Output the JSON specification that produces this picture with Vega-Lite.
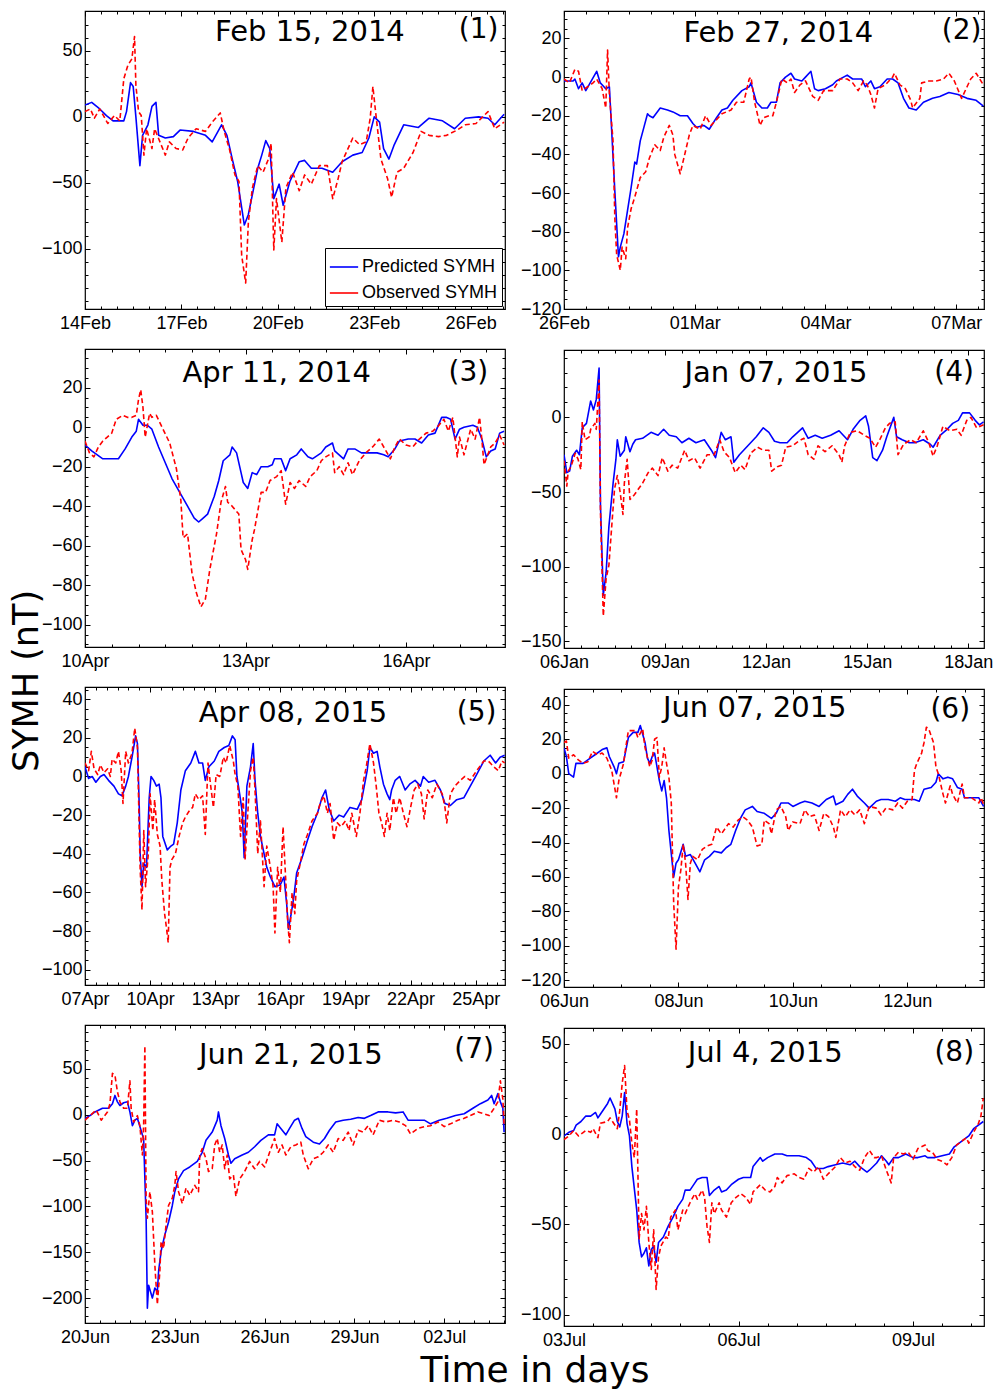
{
  "$schema": "https://vega.github.io/schema/vega-lite/v6.json",
  "background": "white",
  "padding": {"left": 10, "top": 9, "right": 4, "bottom": 2},
  "config": {
    "view": {"stroke": "black", "strokeWidth": 1.2},
    "axis": {"grid": false, "domain": false, "tickColor": "black", "tickWidth": 1, "labelColor": "black", "labelFont": "Liberation Sans", "labelFontSize": 18, "labelFlush": false, "labelOverlap": false},
    "line": {"strokeJoin": "round", "strokeWidth": 1.6},
    "text": {"font": "DejaVu Sans", "fontSize": 29, "baseline": "middle", "align": "center"}
  },
  "spacing": 2,
  "resolve": {"scale": {"color": "independent"}},
  "vconcat": [
    {
      "spacing": -5,
      "resolve": {"scale": {"color": "independent"}},
      "hconcat": [
        {
          "width": 23, "height": 1340,
          "view": {"stroke": null},
          "data": {"values": [{"label": "SYMH (nT)"}]},
          "mark": {"type": "text", "angle": 270, "fontSize": 35, "dy": 3.5},
          "encoding": {"text": {"field": "label"}}
        },
        {
          "spacing": 12,
          "resolve": {"scale": {"color": "independent"}},
          "hconcat": [
            {
              "spacing": 14,
              "resolve": {"scale": {"color": "independent"}},
              "vconcat": [
                {
                  "width": 420, "height": 298,
                  "resolve": {"axis": {"x": "independent", "y": "independent"}},
                  "layer": [
                    {
                      "data": {"format": {"parse": {"t": "date:'%Y-%m-%d %H'"}}, "values": [
                        {"t":"2014-02-14 00","v":9},{"t":"2014-02-14 05","v":11},{"t":"2014-02-14 11","v":6},{"t":"2014-02-14 16","v":1},{"t":"2014-02-14 21","v":-3},{"t":"2014-02-15 05","v":-3},{"t":"2014-02-15 07","v":4},{"t":"2014-02-15 10","v":26},{"t":"2014-02-15 12","v":23},{"t":"2014-02-15 14","v":0},{"t":"2014-02-15 17","v":-37},{"t":"2014-02-15 19","v":-14},{"t":"2014-02-15 23","v":-6},{"t":"2014-02-16 02","v":8},{"t":"2014-02-16 05","v":11},{"t":"2014-02-16 07","v":-14},{"t":"2014-02-16 12","v":-16},{"t":"2014-02-16 18","v":-15},{"t":"2014-02-16 23","v":-10},{"t":"2014-02-17 09","v":-11},{"t":"2014-02-17 18","v":-14},{"t":"2014-02-17 23","v":-19},{"t":"2014-02-18 06","v":-6},{"t":"2014-02-18 10","v":-14},{"t":"2014-02-18 14","v":-32},{"t":"2014-02-18 18","v":-49},{"t":"2014-02-18 23","v":-82},{"t":"2014-02-19 02","v":-74},{"t":"2014-02-19 05","v":-59},{"t":"2014-02-19 09","v":-39},{"t":"2014-02-19 12","v":-29},{"t":"2014-02-19 15","v":-18},{"t":"2014-02-19 18","v":-24},{"t":"2014-02-19 21","v":-62},{"t":"2014-02-20 01","v":-51},{"t":"2014-02-20 04","v":-67},{"t":"2014-02-20 09","v":-49},{"t":"2014-02-20 16","v":-34},{"t":"2014-02-20 20","v":-33},{"t":"2014-02-21 01","v":-39},{"t":"2014-02-21 09","v":-39},{"t":"2014-02-21 17","v":-42},{"t":"2014-02-22 00","v":-34},{"t":"2014-02-22 08","v":-29},{"t":"2014-02-22 15","v":-27},{"t":"2014-02-22 20","v":-16},{"t":"2014-02-23 00","v":0},{"t":"2014-02-23 04","v":-4},{"t":"2014-02-23 07","v":-24},{"t":"2014-02-23 11","v":-32},{"t":"2014-02-23 15","v":-21},{"t":"2014-02-23 22","v":-6},{"t":"2014-02-24 09","v":-8},{"t":"2014-02-24 17","v":-1},{"t":"2014-02-25 03","v":-3},{"t":"2014-02-25 12","v":-9},{"t":"2014-02-25 20","v":-1},{"t":"2014-02-26 06","v":0},{"t":"2014-02-26 13","v":-1},{"t":"2014-02-26 18","v":-6},{"t":"2014-02-27 01","v":2}
                      ]},
                      "mark": {"type": "line", "clip": true},
                      "encoding": {
                        "x": {"field": "t", "type": "temporal", "scale": {"domain": [{"year":2014,"month":2,"date":14},{"year":2014,"month":2,"date":27,"hours":1,"minutes":40}], "nice": false},
                          "axis": {"orient": "bottom", "title": null, "format": "%d%b", "tickSize": -5, "labelPadding": 10, "values": [{"year":2014,"month":2,"date":14},{"year":2014,"month":2,"date":17},{"year":2014,"month":2,"date":20},{"year":2014,"month":2,"date":23},{"year":2014,"month":2,"date":26}]}},
                        "y": {"field": "v", "type": "quantitative", "scale": {"domain": [-145.7, 80.3], "nice": false, "zero": false},
                          "axis": {"orient": "left", "title": null, "tickSize": -5, "labelPadding": 8, "values": [-100,-50,0,50]}},
                        "color": {"datum": "Predicted SYMH", "scale": {"domain": ["Predicted SYMH", "Observed SYMH"], "range": ["#0000ff", "#ff0000"]},
                          "legend": {"title": null, "orient": "bottom-right", "offset": 3, "strokeColor": "black", "fillColor": "white", "padding": 4, "symbolType": "stroke", "symbolSize": 800, "symbolStrokeWidth": 1.6, "labelFont": "Liberation Sans", "labelFontSize": 18, "labelColor": "black", "labelOffset": 3, "rowPadding": 2,
                            "encode": {"symbols": {"update": {"strokeDash": {"signal": "datum.value === 'Observed SYMH' ? [5, 3] : [1, 0]"}}}}}}
                      }
                    },
                    {
                      "data": {"format": {"parse": {"t": "date:'%Y-%m-%d %H'"}}, "values": [
                        {"t":"2014-02-14 00","v":4},{"t":"2014-02-14 04","v":6},{"t":"2014-02-14 07","v":-1},{"t":"2014-02-14 11","v":6},{"t":"2014-02-14 17","v":-5},{"t":"2014-02-14 22","v":1},{"t":"2014-02-15 02","v":-3},{"t":"2014-02-15 05","v":29},{"t":"2014-02-15 08","v":39},{"t":"2014-02-15 11","v":44},{"t":"2014-02-15 13","v":61},{"t":"2014-02-15 14","v":24},{"t":"2014-02-15 16","v":4},{"t":"2014-02-15 18","v":1},{"t":"2014-02-15 20","v":-29},{"t":"2014-02-15 22","v":-9},{"t":"2014-02-16 02","v":-24},{"t":"2014-02-16 04","v":-9},{"t":"2014-02-16 06","v":-14},{"t":"2014-02-16 12","v":-29},{"t":"2014-02-16 15","v":-19},{"t":"2014-02-16 20","v":-24},{"t":"2014-02-17 01","v":-25},{"t":"2014-02-17 05","v":-16},{"t":"2014-02-17 11","v":-9},{"t":"2014-02-17 18","v":-11},{"t":"2014-02-17 23","v":-4},{"t":"2014-02-18 05","v":3},{"t":"2014-02-18 08","v":-11},{"t":"2014-02-18 12","v":-25},{"t":"2014-02-18 16","v":-44},{"t":"2014-02-18 19","v":-49},{"t":"2014-02-18 21","v":-105},{"t":"2014-02-19 00","v":-126},{"t":"2014-02-19 02","v":-80},{"t":"2014-02-19 05","v":-54},{"t":"2014-02-19 09","v":-37},{"t":"2014-02-19 13","v":-42},{"t":"2014-02-19 17","v":-32},{"t":"2014-02-19 19","v":-20},{"t":"2014-02-19 21","v":-101},{"t":"2014-02-19 23","v":-62},{"t":"2014-02-20 03","v":-95},{"t":"2014-02-20 06","v":-54},{"t":"2014-02-20 11","v":-42},{"t":"2014-02-20 16","v":-56},{"t":"2014-02-20 20","v":-44},{"t":"2014-02-21 01","v":-51},{"t":"2014-02-21 07","v":-37},{"t":"2014-02-21 13","v":-37},{"t":"2014-02-21 17","v":-62},{"t":"2014-02-21 21","v":-47},{"t":"2014-02-22 00","v":-34},{"t":"2014-02-22 08","v":-16},{"t":"2014-02-22 13","v":-21},{"t":"2014-02-22 18","v":-19},{"t":"2014-02-22 21","v":-1},{"t":"2014-02-22 23","v":23},{"t":"2014-02-23 01","v":4},{"t":"2014-02-23 05","v":-32},{"t":"2014-02-23 10","v":-47},{"t":"2014-02-23 13","v":-61},{"t":"2014-02-23 17","v":-42},{"t":"2014-02-23 22","v":-39},{"t":"2014-02-24 05","v":-27},{"t":"2014-02-24 11","v":-11},{"t":"2014-02-24 17","v":-14},{"t":"2014-02-25 00","v":-15},{"t":"2014-02-25 06","v":-14},{"t":"2014-02-25 14","v":-10},{"t":"2014-02-25 20","v":-6},{"t":"2014-02-26 04","v":-5},{"t":"2014-02-26 13","v":4},{"t":"2014-02-26 18","v":-9},{"t":"2014-02-27 01","v":-4}
                      ]},
                      "mark": {"type": "line", "strokeDash": [5, 3], "clip": true},
                      "encoding": {
                        "x": {"field": "t", "type": "temporal", "axis": {"orient": "top", "title": null, "labels": false, "tickSize": -5, "values": [{"year":2014,"month":2,"date":14},{"year":2014,"month":2,"date":17},{"year":2014,"month":2,"date":20},{"year":2014,"month":2,"date":23},{"year":2014,"month":2,"date":26}]}},
                        "y": {"field": "v", "type": "quantitative", "axis": {"orient": "right", "title": null, "labels": false, "tickSize": -5, "values": [-100,-50,0,50]}},
                        "color": {"datum": "Observed SYMH"}
                      }
                    },
                    {
                      "data": {"values": [{"label": "Feb 15, 2014"}]},
                      "mark": {"type": "text"},
                      "encoding": {
                        "x": {"datum": 1392940800000, "type": "temporal", "axis": {"orient": "bottom", "title": null, "labels": false, "tickSize": -3, "values": [1392336000000,1392379200000,1392422400000,1392465600000,1392508800000,1392552000000,1392595200000,1392638400000,1392681600000,1392724800000,1392768000000,1392811200000,1392854400000,1392897600000,1392940800000,1392984000000,1393027200000,1393070400000,1393113600000,1393156800000,1393200000000,1393243200000,1393286400000,1393329600000,1393372800000,1393416000000,1393459200000]}},
                        "y": {"datum": 64, "type": "quantitative", "axis": {"orient": "left", "title": null, "labels": false, "tickSize": -3, "values": [-140,-130,-120,-110,-100,-90,-80,-70,-60,-50,-40,-30,-20,-10,0,10,20,30,40,50,60,70,80]}},
                        "text": {"field": "label"}
                      }
                    },
                    {
                      "data": {"values": [{"label": "(1)"}]},
                      "mark": {"type": "text", "fontSize": 28},
                      "encoding": {
                        "x": {"datum": 1393394400000, "type": "temporal", "axis": {"orient": "top", "title": null, "labels": false, "tickSize": -3, "values": [1392336000000,1392379200000,1392422400000,1392465600000,1392508800000,1392552000000,1392595200000,1392638400000,1392681600000,1392724800000,1392768000000,1392811200000,1392854400000,1392897600000,1392940800000,1392984000000,1393027200000,1393070400000,1393113600000,1393156800000,1393200000000,1393243200000,1393286400000,1393329600000,1393372800000,1393416000000,1393459200000]}},
                        "y": {"datum": 66, "type": "quantitative", "axis": {"orient": "right", "title": null, "labels": false, "tickSize": -3, "values": [-140,-130,-120,-110,-100,-90,-80,-70,-60,-50,-40,-30,-20,-10,0,10,20,30,40,50,60,70,80]}},
                        "text": {"field": "label"}
                      }
                    }
                  ]
                },
                {
                  "width": 420, "height": 298,
                  "resolve": {"axis": {"x": "independent", "y": "independent"}},
                  "layer": [
                    {
                      "data": {"format": {"parse": {"t": "date:'%Y-%m-%d %H'"}}, "values": [
                        {"t":"2014-04-10 00","v":-9},{"t":"2014-04-10 03","v":-12},{"t":"2014-04-10 08","v":-16},{"t":"2014-04-10 12","v":-16},{"t":"2014-04-10 15","v":-16},{"t":"2014-04-10 18","v":-11},{"t":"2014-04-10 21","v":-5},{"t":"2014-04-10 23","v":-2},{"t":"2014-04-11 00","v":4},{"t":"2014-04-11 02","v":1},{"t":"2014-04-11 04","v":1},{"t":"2014-04-11 06","v":-1},{"t":"2014-04-11 09","v":-10},{"t":"2014-04-11 12","v":-18},{"t":"2014-04-11 15","v":-26},{"t":"2014-04-11 19","v":-34},{"t":"2014-04-11 22","v":-40},{"t":"2014-04-12 01","v":-46},{"t":"2014-04-12 03","v":-48},{"t":"2014-04-12 05","v":-46},{"t":"2014-04-12 07","v":-44},{"t":"2014-04-12 10","v":-35},{"t":"2014-04-12 12","v":-27},{"t":"2014-04-12 14","v":-17},{"t":"2014-04-12 17","v":-14},{"t":"2014-04-12 18","v":-10},{"t":"2014-04-12 20","v":-13},{"t":"2014-04-12 22","v":-23},{"t":"2014-04-12 23","v":-28},{"t":"2014-04-13 01","v":-31},{"t":"2014-04-13 03","v":-23},{"t":"2014-04-13 05","v":-24},{"t":"2014-04-13 07","v":-20},{"t":"2014-04-13 10","v":-20},{"t":"2014-04-13 12","v":-19},{"t":"2014-04-13 13","v":-16},{"t":"2014-04-13 16","v":-16},{"t":"2014-04-13 18","v":-22},{"t":"2014-04-13 20","v":-16},{"t":"2014-04-13 23","v":-14},{"t":"2014-04-14 01","v":-11},{"t":"2014-04-14 04","v":-15},{"t":"2014-04-14 06","v":-16},{"t":"2014-04-14 10","v":-13},{"t":"2014-04-14 12","v":-10},{"t":"2014-04-14 15","v":-8},{"t":"2014-04-14 16","v":-12},{"t":"2014-04-14 20","v":-16},{"t":"2014-04-14 22","v":-11},{"t":"2014-04-15 01","v":-11},{"t":"2014-04-15 04","v":-13},{"t":"2014-04-15 07","v":-13},{"t":"2014-04-15 11","v":-13},{"t":"2014-04-15 14","v":-14},{"t":"2014-04-15 16","v":-15},{"t":"2014-04-15 19","v":-11},{"t":"2014-04-15 21","v":-7},{"t":"2014-04-16 01","v":-6},{"t":"2014-04-16 04","v":-6},{"t":"2014-04-16 07","v":-8},{"t":"2014-04-16 10","v":-4},{"t":"2014-04-16 13","v":-3},{"t":"2014-04-16 16","v":5},{"t":"2014-04-16 18","v":5},{"t":"2014-04-16 20","v":4},{"t":"2014-04-16 22","v":-6},{"t":"2014-04-17 00","v":-1},{"t":"2014-04-17 02","v":0},{"t":"2014-04-17 06","v":1},{"t":"2014-04-17 08","v":0},{"t":"2014-04-17 10","v":-6},{"t":"2014-04-17 12","v":-15},{"t":"2014-04-17 14","v":-12},{"t":"2014-04-17 16","v":-11},{"t":"2014-04-17 18","v":-3},{"t":"2014-04-17 20","v":-2}
                      ]},
                      "mark": {"type": "line", "color": "#0000ff", "clip": true},
                      "encoding": {
                        "x": {"field": "t", "type": "temporal", "scale": {"domain": [{"year":2014,"month":4,"date":10},{"year":2014,"month":4,"date":17,"hours":20,"minutes":24}], "nice": false},
                          "axis": {"orient": "bottom", "title": null, "format": "%d%b", "tickSize": -5, "labelPadding": 10, "values": [{"year":2014,"month":4,"date":10},{"year":2014,"month":4,"date":13},{"year":2014,"month":4,"date":16}]}},
                        "y": {"field": "v", "type": "quantitative", "scale": {"domain": [-111.3, 39.6], "nice": false, "zero": false},
                          "axis": {"orient": "left", "title": null, "tickSize": -5, "labelPadding": 8, "values": [-100,-80,-60,-40,-20,0,20]}}
                      }
                    },
                    {
                      "data": {"format": {"parse": {"t": "date:'%Y-%m-%d %H'"}}, "values": [
                        {"t":"2014-04-10 00","v":-7},{"t":"2014-04-10 02","v":-13},{"t":"2014-04-10 04","v":-15},{"t":"2014-04-10 06","v":-10},{"t":"2014-04-10 08","v":-7},{"t":"2014-04-10 10","v":-5},{"t":"2014-04-10 12","v":-3},{"t":"2014-04-10 14","v":4},{"t":"2014-04-10 17","v":6},{"t":"2014-04-10 19","v":5},{"t":"2014-04-10 21","v":5},{"t":"2014-04-10 23","v":6},{"t":"2014-04-11 00","v":14},{"t":"2014-04-11 01","v":19},{"t":"2014-04-11 02","v":10},{"t":"2014-04-11 03","v":-5},{"t":"2014-04-11 05","v":7},{"t":"2014-04-11 06","v":5},{"t":"2014-04-11 08","v":6},{"t":"2014-04-11 11","v":-1},{"t":"2014-04-11 14","v":-8},{"t":"2014-04-11 17","v":-21},{"t":"2014-04-11 19","v":-37},{"t":"2014-04-11 20","v":-56},{"t":"2014-04-11 22","v":-54},{"t":"2014-04-12 00","v":-74},{"t":"2014-04-12 02","v":-84},{"t":"2014-04-12 04","v":-91},{"t":"2014-04-12 06","v":-87},{"t":"2014-04-12 08","v":-72},{"t":"2014-04-12 11","v":-54},{"t":"2014-04-12 13","v":-38},{"t":"2014-04-12 15","v":-30},{"t":"2014-04-12 16","v":-38},{"t":"2014-04-12 18","v":-40},{"t":"2014-04-12 21","v":-44},{"t":"2014-04-12 22","v":-62},{"t":"2014-04-13 00","v":-67},{"t":"2014-04-13 01","v":-72},{"t":"2014-04-13 03","v":-57},{"t":"2014-04-13 04","v":-52},{"t":"2014-04-13 07","v":-33},{"t":"2014-04-13 09","v":-33},{"t":"2014-04-13 11","v":-27},{"t":"2014-04-13 14","v":-25},{"t":"2014-04-13 16","v":-22},{"t":"2014-04-13 18","v":-39},{"t":"2014-04-13 20","v":-28},{"t":"2014-04-13 22","v":-31},{"t":"2014-04-14 00","v":-27},{"t":"2014-04-14 03","v":-30},{"t":"2014-04-14 05","v":-25},{"t":"2014-04-14 08","v":-22},{"t":"2014-04-14 10","v":-17},{"t":"2014-04-14 12","v":-15},{"t":"2014-04-14 15","v":-13},{"t":"2014-04-14 16","v":-23},{"t":"2014-04-14 18","v":-20},{"t":"2014-04-14 20","v":-24},{"t":"2014-04-14 22","v":-18},{"t":"2014-04-15 00","v":-24},{"t":"2014-04-15 03","v":-17},{"t":"2014-04-15 06","v":-13},{"t":"2014-04-15 09","v":-10},{"t":"2014-04-15 12","v":-6},{"t":"2014-04-15 15","v":-12},{"t":"2014-04-15 17","v":-16},{"t":"2014-04-15 19","v":-10},{"t":"2014-04-15 21","v":-6},{"t":"2014-04-16 00","v":-9},{"t":"2014-04-16 03","v":-10},{"t":"2014-04-16 06","v":-6},{"t":"2014-04-16 09","v":-3},{"t":"2014-04-16 12","v":-2},{"t":"2014-04-16 14","v":0},{"t":"2014-04-16 17","v":4},{"t":"2014-04-16 19","v":-2},{"t":"2014-04-16 21","v":5},{"t":"2014-04-16 23","v":-15},{"t":"2014-04-17 00","v":-5},{"t":"2014-04-17 02","v":-14},{"t":"2014-04-17 05","v":-1},{"t":"2014-04-17 07","v":-6},{"t":"2014-04-17 09","v":5},{"t":"2014-04-17 10","v":-6},{"t":"2014-04-17 11","v":-19},{"t":"2014-04-17 14","v":-10},{"t":"2014-04-17 16","v":-8},{"t":"2014-04-17 18","v":-4},{"t":"2014-04-17 20","v":-9}
                      ]},
                      "mark": {"type": "line", "color": "#ff0000", "strokeDash": [5, 3], "clip": true},
                      "encoding": {
                        "x": {"field": "t", "type": "temporal", "axis": {"orient": "top", "title": null, "labels": false, "tickSize": -5, "values": [{"year":2014,"month":4,"date":10},{"year":2014,"month":4,"date":13},{"year":2014,"month":4,"date":16}]}},
                        "y": {"field": "v", "type": "quantitative", "axis": {"orient": "right", "title": null, "labels": false, "tickSize": -5, "values": [-100,-80,-60,-40,-20,0,20]}}
                      }
                    },
                    {
                      "data": {"values": [{"label": "Apr 11, 2014"}]},
                      "mark": {"type": "text"},
                      "encoding": {
                        "x": {"datum": 1397397600000, "type": "temporal", "axis": {"orient": "bottom", "title": null, "labels": false, "tickSize": -3, "values": [1397088000000,1397131200000,1397174400000,1397217600000,1397260800000,1397304000000,1397347200000,1397390400000,1397433600000,1397476800000,1397520000000,1397563200000,1397606400000,1397649600000,1397692800000,1397736000000]}},
                        "y": {"datum": 27.3, "type": "quantitative", "axis": {"orient": "left", "title": null, "labels": false, "tickSize": -3, "values": [-110,-105,-100,-95,-90,-85,-80,-75,-70,-65,-60,-55,-50,-45,-40,-35,-30,-25,-20,-15,-10,-5,0,5,10,15,20,25,30,35]}},
                        "text": {"field": "label"}
                      }
                    },
                    {
                      "data": {"values": [{"label": "(3)"}]},
                      "mark": {"type": "text", "fontSize": 28},
                      "encoding": {
                        "x": {"datum": 1397707200000, "type": "temporal", "axis": {"orient": "top", "title": null, "labels": false, "tickSize": -3, "values": [1397088000000,1397131200000,1397174400000,1397217600000,1397260800000,1397304000000,1397347200000,1397390400000,1397433600000,1397476800000,1397520000000,1397563200000,1397606400000,1397649600000,1397692800000,1397736000000]}},
                        "y": {"datum": 27.3, "type": "quantitative", "axis": {"orient": "right", "title": null, "labels": false, "tickSize": -3, "values": [-110,-105,-100,-95,-90,-85,-80,-75,-70,-65,-60,-55,-50,-45,-40,-35,-30,-25,-20,-15,-10,-5,0,5,10,15,20,25,30,35]}},
                        "text": {"field": "label"}
                      }
                    }
                  ]
                },
                {
                  "width": 420, "height": 298,
                  "resolve": {"axis": {"x": "independent", "y": "independent"}},
                  "layer": [
                    {
                      "data": {"format": {"parse": {"t": "date:'%Y-%m-%d %H'"}}, "values": [
                        {"t":"2015-04-07 00","v":5},{"t":"2015-04-07 04","v":-1},{"t":"2015-04-07 08","v":0},{"t":"2015-04-07 12","v":-3},{"t":"2015-04-07 17","v":0},{"t":"2015-04-07 21","v":1},{"t":"2015-04-08 02","v":-2},{"t":"2015-04-08 08","v":-5},{"t":"2015-04-08 13","v":-9},{"t":"2015-04-08 17","v":-10},{"t":"2015-04-08 21","v":-5},{"t":"2015-04-09 00","v":0},{"t":"2015-04-09 04","v":10},{"t":"2015-04-09 08","v":21},{"t":"2015-04-09 10","v":17},{"t":"2015-04-09 12","v":-16},{"t":"2015-04-09 13","v":-40},{"t":"2015-04-09 15","v":-57},{"t":"2015-04-09 17","v":-45},{"t":"2015-04-09 20","v":-47},{"t":"2015-04-09 23","v":-11},{"t":"2015-04-10 01","v":0},{"t":"2015-04-10 04","v":-2},{"t":"2015-04-10 07","v":-5},{"t":"2015-04-10 10","v":-4},{"t":"2015-04-10 12","v":-11},{"t":"2015-04-10 14","v":-31},{"t":"2015-04-10 19","v":-38},{"t":"2015-04-10 23","v":-36},{"t":"2015-04-11 02","v":-35},{"t":"2015-04-11 06","v":-24},{"t":"2015-04-11 10","v":-7},{"t":"2015-04-11 15","v":3},{"t":"2015-04-11 21","v":7},{"t":"2015-04-12 02","v":13},{"t":"2015-04-12 06","v":7},{"t":"2015-04-12 10","v":7},{"t":"2015-04-12 13","v":-2},{"t":"2015-04-12 17","v":5},{"t":"2015-04-12 23","v":8},{"t":"2015-04-13 04","v":13},{"t":"2015-04-13 10","v":15},{"t":"2015-04-13 15","v":16},{"t":"2015-04-13 19","v":21},{"t":"2015-04-13 22","v":19},{"t":"2015-04-14 00","v":0},{"t":"2015-04-14 03","v":-9},{"t":"2015-04-14 06","v":-19},{"t":"2015-04-14 08","v":-42},{"t":"2015-04-14 11","v":-5},{"t":"2015-04-14 15","v":5},{"t":"2015-04-14 18","v":17},{"t":"2015-04-14 20","v":-2},{"t":"2015-04-14 23","v":-19},{"t":"2015-04-15 02","v":-31},{"t":"2015-04-15 06","v":-40},{"t":"2015-04-15 09","v":-47},{"t":"2015-04-15 13","v":-52},{"t":"2015-04-15 18","v":-57},{"t":"2015-04-16 00","v":-56},{"t":"2015-04-16 04","v":-52},{"t":"2015-04-16 07","v":-66},{"t":"2015-04-16 09","v":-79},{"t":"2015-04-16 12","v":-71},{"t":"2015-04-16 15","v":-62},{"t":"2015-04-16 18","v":-50},{"t":"2015-04-17 00","v":-42},{"t":"2015-04-17 06","v":-33},{"t":"2015-04-17 11","v":-26},{"t":"2015-04-17 17","v":-19},{"t":"2015-04-17 22","v":-11},{"t":"2015-04-18 02","v":-7},{"t":"2015-04-18 06","v":-17},{"t":"2015-04-18 11","v":-23},{"t":"2015-04-18 17","v":-20},{"t":"2015-04-18 22","v":-21},{"t":"2015-04-19 05","v":-16},{"t":"2015-04-19 13","v":-17},{"t":"2015-04-19 18","v":-12},{"t":"2015-04-20 00","v":3},{"t":"2015-04-20 03","v":15},{"t":"2015-04-20 07","v":12},{"t":"2015-04-20 11","v":13},{"t":"2015-04-20 14","v":5},{"t":"2015-04-20 18","v":-4},{"t":"2015-04-20 22","v":-9},{"t":"2015-04-21 01","v":-12},{"t":"2015-04-21 03","v":-7},{"t":"2015-04-21 07","v":-2},{"t":"2015-04-21 12","v":0},{"t":"2015-04-21 18","v":-7},{"t":"2015-04-21 23","v":-4},{"t":"2015-04-22 05","v":-2},{"t":"2015-04-22 11","v":-5},{"t":"2015-04-22 14","v":0},{"t":"2015-04-22 20","v":-3},{"t":"2015-04-23 03","v":-2},{"t":"2015-04-23 09","v":-7},{"t":"2015-04-23 14","v":-14},{"t":"2015-04-23 20","v":-15},{"t":"2015-04-24 03","v":-12},{"t":"2015-04-24 11","v":-11},{"t":"2015-04-24 18","v":-5},{"t":"2015-04-25 01","v":1},{"t":"2015-04-25 09","v":8},{"t":"2015-04-25 16","v":11},{"t":"2015-04-25 22","v":7},{"t":"2015-04-26 03","v":10},{"t":"2015-04-26 08","v":11}
                      ]},
                      "mark": {"type": "line", "color": "#0000ff", "clip": true},
                      "encoding": {
                        "x": {"field": "t", "type": "temporal", "scale": {"domain": [{"year":2015,"month":4,"date":7},{"year":2015,"month":4,"date":26,"hours":8,"minutes":24}], "nice": false},
                          "axis": {"orient": "bottom", "title": null, "format": "%d%b", "tickSize": -5, "labelPadding": 10, "values": [{"year":2015,"month":4,"date":7},{"year":2015,"month":4,"date":10},{"year":2015,"month":4,"date":13},{"year":2015,"month":4,"date":16},{"year":2015,"month":4,"date":19},{"year":2015,"month":4,"date":22},{"year":2015,"month":4,"date":25}]}},
                        "y": {"field": "v", "type": "quantitative", "scale": {"domain": [-107.9, 46.3], "nice": false, "zero": false},
                          "axis": {"orient": "left", "title": null, "tickSize": -5, "labelPadding": 8, "values": [-100,-80,-60,-40,-20,0,20,40]}}
                      }
                    },
                    {
                      "data": {"format": {"parse": {"t": "date:'%Y-%m-%d %H'"}}, "values": [
                        {"t":"2015-04-07 00","v":7},{"t":"2015-04-07 04","v":3},{"t":"2015-04-07 07","v":13},{"t":"2015-04-07 10","v":4},{"t":"2015-04-07 14","v":1},{"t":"2015-04-07 17","v":6},{"t":"2015-04-07 21","v":2},{"t":"2015-04-08 01","v":4},{"t":"2015-04-08 04","v":0},{"t":"2015-04-08 06","v":9},{"t":"2015-04-08 10","v":7},{"t":"2015-04-08 13","v":13},{"t":"2015-04-08 16","v":3},{"t":"2015-04-08 18","v":-14},{"t":"2015-04-08 21","v":13},{"t":"2015-04-09 00","v":7},{"t":"2015-04-09 04","v":12},{"t":"2015-04-09 07","v":25},{"t":"2015-04-09 10","v":15},{"t":"2015-04-09 12","v":-28},{"t":"2015-04-09 13","v":-48},{"t":"2015-04-09 15","v":-69},{"t":"2015-04-09 17","v":-28},{"t":"2015-04-09 19","v":-57},{"t":"2015-04-09 22","v":-40},{"t":"2015-04-10 00","v":-9},{"t":"2015-04-10 03","v":-28},{"t":"2015-04-10 05","v":-12},{"t":"2015-04-10 08","v":-30},{"t":"2015-04-10 11","v":-36},{"t":"2015-04-10 13","v":-54},{"t":"2015-04-10 16","v":-71},{"t":"2015-04-10 18","v":-78},{"t":"2015-04-10 20","v":-86},{"t":"2015-04-10 22","v":-47},{"t":"2015-04-11 00","v":-43},{"t":"2015-04-11 04","v":-40},{"t":"2015-04-11 08","v":-31},{"t":"2015-04-11 12","v":-24},{"t":"2015-04-11 15","v":-21},{"t":"2015-04-11 19","v":-18},{"t":"2015-04-11 23","v":-16},{"t":"2015-04-12 02","v":-9},{"t":"2015-04-12 06","v":-12},{"t":"2015-04-12 10","v":-10},{"t":"2015-04-12 13","v":-30},{"t":"2015-04-12 16","v":7},{"t":"2015-04-12 19","v":-5},{"t":"2015-04-12 22","v":-16},{"t":"2015-04-13 01","v":1},{"t":"2015-04-13 05","v":0},{"t":"2015-04-13 09","v":10},{"t":"2015-04-13 12","v":7},{"t":"2015-04-13 16","v":16},{"t":"2015-04-13 20","v":8},{"t":"2015-04-13 22","v":1},{"t":"2015-04-14 01","v":-5},{"t":"2015-04-14 04","v":-31},{"t":"2015-04-14 07","v":-11},{"t":"2015-04-14 09","v":-43},{"t":"2015-04-14 12","v":-19},{"t":"2015-04-14 15","v":3},{"t":"2015-04-14 18","v":10},{"t":"2015-04-14 20","v":-7},{"t":"2015-04-14 23","v":-40},{"t":"2015-04-15 02","v":-23},{"t":"2015-04-15 06","v":-57},{"t":"2015-04-15 09","v":-36},{"t":"2015-04-15 13","v":-47},{"t":"2015-04-15 16","v":-57},{"t":"2015-04-15 18","v":-81},{"t":"2015-04-15 21","v":-47},{"t":"2015-04-16 00","v":-60},{"t":"2015-04-16 03","v":-26},{"t":"2015-04-16 06","v":-54},{"t":"2015-04-16 08","v":-74},{"t":"2015-04-16 10","v":-86},{"t":"2015-04-16 13","v":-60},{"t":"2015-04-16 16","v":-71},{"t":"2015-04-16 18","v":-54},{"t":"2015-04-16 22","v":-45},{"t":"2015-04-17 02","v":-35},{"t":"2015-04-17 06","v":-30},{"t":"2015-04-17 11","v":-23},{"t":"2015-04-17 17","v":-19},{"t":"2015-04-17 20","v":-14},{"t":"2015-04-18 00","v":-10},{"t":"2015-04-18 04","v":-19},{"t":"2015-04-18 07","v":-14},{"t":"2015-04-18 11","v":-33},{"t":"2015-04-18 15","v":-24},{"t":"2015-04-18 19","v":-26},{"t":"2015-04-19 00","v":-23},{"t":"2015-04-19 04","v":-28},{"t":"2015-04-19 07","v":-19},{"t":"2015-04-19 12","v":-31},{"t":"2015-04-19 16","v":-19},{"t":"2015-04-19 20","v":-2},{"t":"2015-04-19 23","v":5},{"t":"2015-04-20 03","v":17},{"t":"2015-04-20 07","v":7},{"t":"2015-04-20 10","v":-5},{"t":"2015-04-20 13","v":-19},{"t":"2015-04-20 16","v":-24},{"t":"2015-04-20 19","v":-31},{"t":"2015-04-20 22","v":-19},{"t":"2015-04-21 01","v":-28},{"t":"2015-04-21 05","v":-11},{"t":"2015-04-21 08","v":-19},{"t":"2015-04-21 12","v":-11},{"t":"2015-04-21 16","v":-19},{"t":"2015-04-21 20","v":-26},{"t":"2015-04-22 00","v":-16},{"t":"2015-04-22 04","v":-7},{"t":"2015-04-22 08","v":-4},{"t":"2015-04-22 12","v":-9},{"t":"2015-04-22 15","v":-22},{"t":"2015-04-22 19","v":-7},{"t":"2015-04-23 00","v":-11},{"t":"2015-04-23 05","v":-4},{"t":"2015-04-23 11","v":-9},{"t":"2015-04-23 14","v":-16},{"t":"2015-04-23 16","v":-24},{"t":"2015-04-23 20","v":-9},{"t":"2015-04-24 01","v":-5},{"t":"2015-04-24 07","v":-2},{"t":"2015-04-24 12","v":0},{"t":"2015-04-24 18","v":-2},{"t":"2015-04-25 01","v":3},{"t":"2015-04-25 09","v":8},{"t":"2015-04-25 14","v":8},{"t":"2015-04-25 20","v":5},{"t":"2015-04-26 01","v":3},{"t":"2015-04-26 05","v":8},{"t":"2015-04-26 08","v":7}
                      ]},
                      "mark": {"type": "line", "color": "#ff0000", "strokeDash": [5, 3], "clip": true},
                      "encoding": {
                        "x": {"field": "t", "type": "temporal", "axis": {"orient": "top", "title": null, "labels": false, "tickSize": -5, "values": [{"year":2015,"month":4,"date":7},{"year":2015,"month":4,"date":10},{"year":2015,"month":4,"date":13},{"year":2015,"month":4,"date":16},{"year":2015,"month":4,"date":19},{"year":2015,"month":4,"date":22},{"year":2015,"month":4,"date":25}]}},
                        "y": {"field": "v", "type": "quantitative", "axis": {"orient": "right", "title": null, "labels": false, "tickSize": -5, "values": [-100,-80,-60,-40,-20,0,20,40]}}
                      }
                    },
                    {
                      "data": {"values": [{"label": "Apr 08, 2015"}]},
                      "mark": {"type": "text"},
                      "encoding": {
                        "x": {"datum": 1429192800000, "type": "temporal", "axis": {"orient": "bottom", "title": null, "labels": false, "tickSize": -3, "values": [1428364800000,1428408000000,1428451200000,1428494400000,1428537600000,1428580800000,1428624000000,1428667200000,1428710400000,1428753600000,1428796800000,1428840000000,1428883200000,1428926400000,1428969600000,1429012800000,1429056000000,1429099200000,1429142400000,1429185600000,1429228800000,1429272000000,1429315200000,1429358400000,1429401600000,1429444800000,1429488000000,1429531200000,1429574400000,1429617600000,1429660800000,1429704000000,1429747200000,1429790400000,1429833600000,1429876800000,1429920000000,1429963200000,1430006400000]}},
                        "y": {"datum": 32.6, "type": "quantitative", "axis": {"orient": "left", "title": null, "labels": false, "tickSize": -3, "values": [-105,-100,-95,-90,-85,-80,-75,-70,-65,-60,-55,-50,-45,-40,-35,-30,-25,-20,-15,-10,-5,0,5,10,15,20,25,30,35,40,45]}},
                        "text": {"field": "label"}
                      }
                    },
                    {
                      "data": {"values": [{"label": "(5)"}]},
                      "mark": {"type": "text", "fontSize": 28},
                      "encoding": {
                        "x": {"datum": 1429923600000, "type": "temporal", "axis": {"orient": "top", "title": null, "labels": false, "tickSize": -3, "values": [1428364800000,1428408000000,1428451200000,1428494400000,1428537600000,1428580800000,1428624000000,1428667200000,1428710400000,1428753600000,1428796800000,1428840000000,1428883200000,1428926400000,1428969600000,1429012800000,1429056000000,1429099200000,1429142400000,1429185600000,1429228800000,1429272000000,1429315200000,1429358400000,1429401600000,1429444800000,1429488000000,1429531200000,1429574400000,1429617600000,1429660800000,1429704000000,1429747200000,1429790400000,1429833600000,1429876800000,1429920000000,1429963200000,1430006400000]}},
                        "y": {"datum": 32.6, "type": "quantitative", "axis": {"orient": "right", "title": null, "labels": false, "tickSize": -3, "values": [-105,-100,-95,-90,-85,-80,-75,-70,-65,-60,-55,-50,-45,-40,-35,-30,-25,-20,-15,-10,-5,0,5,10,15,20,25,30,35,40,45]}},
                        "text": {"field": "label"}
                      }
                    }
                  ]
                },
                {
                  "width": 420, "height": 298,
                  "resolve": {"axis": {"x": "independent", "y": "independent"}},
                  "layer": [
                    {
                      "data": {"format": {"parse": {"t": "date:'%Y-%m-%d %H'"}}, "values": [
                        {"t":"2015-06-20 00","v":-4},{"t":"2015-06-20 04","v":-1},{"t":"2015-06-20 08","v":3},{"t":"2015-06-20 14","v":7},{"t":"2015-06-20 19","v":7},{"t":"2015-06-20 22","v":12},{"t":"2015-06-21 00","v":21},{"t":"2015-06-21 02","v":14},{"t":"2015-06-21 04","v":10},{"t":"2015-06-21 07","v":13},{"t":"2015-06-21 10","v":14},{"t":"2015-06-21 12","v":3},{"t":"2015-06-21 14","v":-12},{"t":"2015-06-21 16","v":-6},{"t":"2015-06-21 18","v":-4},{"t":"2015-06-21 20","v":-13},{"t":"2015-06-21 22","v":-22},{"t":"2015-06-21 23","v":-26},{"t":"2015-06-22 01","v":-113},{"t":"2015-06-22 02","v":-211},{"t":"2015-06-22 03","v":-186},{"t":"2015-06-22 06","v":-200},{"t":"2015-06-22 08","v":-189},{"t":"2015-06-22 10","v":-193},{"t":"2015-06-22 11","v":-171},{"t":"2015-06-22 13","v":-149},{"t":"2015-06-22 16","v":-131},{"t":"2015-06-22 19","v":-117},{"t":"2015-06-22 22","v":-99},{"t":"2015-06-23 00","v":-84},{"t":"2015-06-23 03","v":-70},{"t":"2015-06-23 07","v":-61},{"t":"2015-06-23 12","v":-57},{"t":"2015-06-23 18","v":-51},{"t":"2015-06-23 22","v":-41},{"t":"2015-06-24 01","v":-28},{"t":"2015-06-24 06","v":-19},{"t":"2015-06-24 10","v":-6},{"t":"2015-06-24 11","v":3},{"t":"2015-06-24 13","v":-12},{"t":"2015-06-24 16","v":-26},{"t":"2015-06-24 19","v":-44},{"t":"2015-06-24 21","v":-53},{"t":"2015-06-25 00","v":-48},{"t":"2015-06-25 06","v":-44},{"t":"2015-06-25 11","v":-41},{"t":"2015-06-25 16","v":-35},{"t":"2015-06-25 21","v":-28},{"t":"2015-06-26 03","v":-22},{"t":"2015-06-26 08","v":-22},{"t":"2015-06-26 10","v":-10},{"t":"2015-06-26 13","v":-15},{"t":"2015-06-26 17","v":-22},{"t":"2015-06-26 20","v":-15},{"t":"2015-06-27 00","v":-6},{"t":"2015-06-27 03","v":-4},{"t":"2015-06-27 06","v":-15},{"t":"2015-06-27 09","v":-24},{"t":"2015-06-27 15","v":-30},{"t":"2015-06-27 20","v":-32},{"t":"2015-06-28 00","v":-26},{"t":"2015-06-28 04","v":-17},{"t":"2015-06-28 09","v":-8},{"t":"2015-06-28 15","v":-6},{"t":"2015-06-28 21","v":-5},{"t":"2015-06-29 03","v":-3},{"t":"2015-06-29 08","v":-4},{"t":"2015-06-29 13","v":-1},{"t":"2015-06-29 19","v":3},{"t":"2015-06-30 03","v":3},{"t":"2015-06-30 09","v":2},{"t":"2015-06-30 15","v":3},{"t":"2015-06-30 19","v":-6},{"t":"2015-07-01 01","v":-6},{"t":"2015-07-01 08","v":-6},{"t":"2015-07-01 13","v":-10},{"t":"2015-07-01 20","v":-6},{"t":"2015-07-02 02","v":-4},{"t":"2015-07-02 09","v":-1},{"t":"2015-07-02 16","v":1},{"t":"2015-07-02 23","v":7},{"t":"2015-07-03 05","v":12},{"t":"2015-07-03 11","v":16},{"t":"2015-07-03 14","v":21},{"t":"2015-07-03 16","v":12},{"t":"2015-07-03 19","v":23},{"t":"2015-07-03 21","v":14},{"t":"2015-07-03 23","v":7},{"t":"2015-07-04 00","v":-19}
                      ]},
                      "mark": {"type": "line", "color": "#0000ff", "clip": true},
                      "encoding": {
                        "x": {"field": "t", "type": "temporal", "scale": {"domain": [{"year":2015,"month":6,"date":20},{"year":2015,"month":7,"date":4,"hours":0,"minutes":43}], "nice": false},
                          "axis": {"orient": "bottom", "title": null, "format": "%d%b", "tickSize": -5, "labelPadding": 10, "values": [{"year":2015,"month":6,"date":20},{"year":2015,"month":6,"date":23},{"year":2015,"month":6,"date":26},{"year":2015,"month":6,"date":29},{"year":2015,"month":7,"date":2}]}},
                        "y": {"field": "v", "type": "quantitative", "scale": {"domain": [-227.2, 97.8], "nice": false, "zero": false},
                          "axis": {"orient": "left", "title": null, "tickSize": -5, "labelPadding": 8, "values": [-200,-150,-100,-50,0,50]}}
                      }
                    },
                    {
                      "data": {"format": {"parse": {"t": "date:'%Y-%m-%d %H'"}}, "values": [
                        {"t":"2015-06-20 00","v":-6},{"t":"2015-06-20 04","v":-1},{"t":"2015-06-20 09","v":5},{"t":"2015-06-20 13","v":-6},{"t":"2015-06-20 18","v":3},{"t":"2015-06-20 20","v":12},{"t":"2015-06-20 22","v":45},{"t":"2015-06-21 00","v":43},{"t":"2015-06-21 02","v":25},{"t":"2015-06-21 04","v":14},{"t":"2015-06-21 07","v":7},{"t":"2015-06-21 10","v":7},{"t":"2015-06-21 12","v":37},{"t":"2015-06-21 13","v":7},{"t":"2015-06-21 15","v":-8},{"t":"2015-06-21 18","v":-1},{"t":"2015-06-21 20","v":-12},{"t":"2015-06-21 22","v":-44},{"t":"2015-06-21 23","v":-12},{"t":"2015-06-22 00","v":75},{"t":"2015-06-22 01","v":-91},{"t":"2015-06-22 02","v":-113},{"t":"2015-06-22 04","v":-84},{"t":"2015-06-22 06","v":-106},{"t":"2015-06-22 07","v":-135},{"t":"2015-06-22 08","v":-164},{"t":"2015-06-22 10","v":-207},{"t":"2015-06-22 12","v":-171},{"t":"2015-06-22 13","v":-138},{"t":"2015-06-22 15","v":-146},{"t":"2015-06-22 17","v":-120},{"t":"2015-06-22 19","v":-99},{"t":"2015-06-22 22","v":-91},{"t":"2015-06-23 00","v":-77},{"t":"2015-06-23 01","v":-62},{"t":"2015-06-23 03","v":-84},{"t":"2015-06-23 06","v":-97},{"t":"2015-06-23 09","v":-80},{"t":"2015-06-23 12","v":-88},{"t":"2015-06-23 16","v":-77},{"t":"2015-06-23 19","v":-84},{"t":"2015-06-23 20","v":-44},{"t":"2015-06-23 22","v":-37},{"t":"2015-06-24 01","v":-48},{"t":"2015-06-24 03","v":-62},{"t":"2015-06-24 06","v":-59},{"t":"2015-06-24 08","v":-33},{"t":"2015-06-24 10","v":-26},{"t":"2015-06-24 12","v":-41},{"t":"2015-06-24 14","v":-33},{"t":"2015-06-24 16","v":-59},{"t":"2015-06-24 18","v":-44},{"t":"2015-06-24 20","v":-70},{"t":"2015-06-24 23","v":-66},{"t":"2015-06-25 01","v":-89},{"t":"2015-06-25 04","v":-70},{"t":"2015-06-25 08","v":-62},{"t":"2015-06-25 12","v":-51},{"t":"2015-06-25 16","v":-59},{"t":"2015-06-25 20","v":-51},{"t":"2015-06-26 00","v":-57},{"t":"2015-06-26 04","v":-41},{"t":"2015-06-26 08","v":-26},{"t":"2015-06-26 11","v":-41},{"t":"2015-06-26 14","v":-33},{"t":"2015-06-26 17","v":-44},{"t":"2015-06-26 21","v":-35},{"t":"2015-06-27 01","v":-33},{"t":"2015-06-27 05","v":-30},{"t":"2015-06-27 07","v":-44},{"t":"2015-06-27 11","v":-59},{"t":"2015-06-27 15","v":-48},{"t":"2015-06-27 19","v":-46},{"t":"2015-06-27 23","v":-41},{"t":"2015-06-28 03","v":-33},{"t":"2015-06-28 07","v":-41},{"t":"2015-06-28 11","v":-26},{"t":"2015-06-28 15","v":-28},{"t":"2015-06-28 19","v":-19},{"t":"2015-06-28 23","v":-33},{"t":"2015-06-29 03","v":-17},{"t":"2015-06-29 07","v":-19},{"t":"2015-06-29 11","v":-12},{"t":"2015-06-29 15","v":-22},{"t":"2015-06-29 20","v":-6},{"t":"2015-06-30 01","v":-8},{"t":"2015-06-30 07","v":-6},{"t":"2015-06-30 12","v":-8},{"t":"2015-06-30 17","v":-12},{"t":"2015-06-30 21","v":-21},{"t":"2015-07-01 03","v":-15},{"t":"2015-07-01 08","v":-13},{"t":"2015-07-01 13","v":-12},{"t":"2015-07-01 19","v":-8},{"t":"2015-07-02 00","v":-13},{"t":"2015-07-02 05","v":-10},{"t":"2015-07-02 11","v":-6},{"t":"2015-07-02 16","v":-4},{"t":"2015-07-02 21","v":-1},{"t":"2015-07-03 03","v":3},{"t":"2015-07-03 08","v":1},{"t":"2015-07-03 12","v":-1},{"t":"2015-07-03 16","v":7},{"t":"2015-07-03 19","v":14},{"t":"2015-07-03 21","v":37},{"t":"2015-07-03 23","v":17},{"t":"2015-07-04 00","v":-12}
                      ]},
                      "mark": {"type": "line", "color": "#ff0000", "strokeDash": [5, 3], "clip": true},
                      "encoding": {
                        "x": {"field": "t", "type": "temporal", "axis": {"orient": "top", "title": null, "labels": false, "tickSize": -5, "values": [{"year":2015,"month":6,"date":20},{"year":2015,"month":6,"date":23},{"year":2015,"month":6,"date":26},{"year":2015,"month":6,"date":29},{"year":2015,"month":7,"date":2}]}},
                        "y": {"field": "v", "type": "quantitative", "axis": {"orient": "right", "title": null, "labels": false, "tickSize": -5, "values": [-200,-150,-100,-50,0,50]}}
                      }
                    },
                    {
                      "data": {"values": [{"label": "Jun 21, 2015"}]},
                      "mark": {"type": "text"},
                      "encoding": {
                        "x": {"datum": 1435352400000, "type": "temporal", "axis": {"orient": "bottom", "title": null, "labels": false, "tickSize": -3, "values": [1434758400000,1434801600000,1434844800000,1434888000000,1434931200000,1434974400000,1435017600000,1435060800000,1435104000000,1435147200000,1435190400000,1435233600000,1435276800000,1435320000000,1435363200000,1435406400000,1435449600000,1435492800000,1435536000000,1435579200000,1435622400000,1435665600000,1435708800000,1435752000000,1435795200000,1435838400000,1435881600000,1435924800000,1435968000000]}},
                        "y": {"datum": 64.6, "type": "quantitative", "axis": {"orient": "left", "title": null, "labels": false, "tickSize": -3, "values": [-220,-210,-200,-190,-180,-170,-160,-150,-140,-130,-120,-110,-100,-90,-80,-70,-60,-50,-40,-30,-20,-10,0,10,20,30,40,50,60,70,80,90]}},
                        "text": {"field": "label"}
                      }
                    },
                    {
                      "data": {"values": [{"label": "(7)"}]},
                      "mark": {"type": "text", "fontSize": 28},
                      "encoding": {
                        "x": {"datum": 1435881600000, "type": "temporal", "axis": {"orient": "top", "title": null, "labels": false, "tickSize": -3, "values": [1434758400000,1434801600000,1434844800000,1434888000000,1434931200000,1434974400000,1435017600000,1435060800000,1435104000000,1435147200000,1435190400000,1435233600000,1435276800000,1435320000000,1435363200000,1435406400000,1435449600000,1435492800000,1435536000000,1435579200000,1435622400000,1435665600000,1435708800000,1435752000000,1435795200000,1435838400000,1435881600000,1435924800000,1435968000000]}},
                        "y": {"datum": 71, "type": "quantitative", "axis": {"orient": "right", "title": null, "labels": false, "tickSize": -3, "values": [-220,-210,-200,-190,-180,-170,-160,-150,-140,-130,-120,-110,-100,-90,-80,-70,-60,-50,-40,-30,-20,-10,0,10,20,30,40,50,60,70,80,90]}},
                        "text": {"field": "label"}
                      }
                    }
                  ]
                }
              ]
            },
            {
              "spacing": 15,
              "resolve": {"scale": {"color": "independent"}},
              "vconcat": [
                {
                  "width": 420, "height": 298,
                  "resolve": {"axis": {"x": "independent", "y": "independent"}},
                  "layer": [
                    {
                      "data": {"format": {"parse": {"t": "date:'%Y-%m-%d %H'"}}, "values": [
                        {"t":"2014-02-26 00","v":-2},{"t":"2014-02-26 05","v":-2},{"t":"2014-02-26 06","v":-1},{"t":"2014-02-26 08","v":-6},{"t":"2014-02-26 10","v":-3},{"t":"2014-02-26 12","v":-7},{"t":"2014-02-26 18","v":3},{"t":"2014-02-26 20","v":-3},{"t":"2014-02-26 23","v":-6},{"t":"2014-02-27 01","v":-5},{"t":"2014-02-27 02","v":-23},{"t":"2014-02-27 04","v":-59},{"t":"2014-02-27 06","v":-93},{"t":"2014-02-27 07","v":-88},{"t":"2014-02-27 09","v":-81},{"t":"2014-02-27 11","v":-69},{"t":"2014-02-27 13","v":-57},{"t":"2014-02-27 15","v":-44},{"t":"2014-02-27 16","v":-45},{"t":"2014-02-27 18","v":-33},{"t":"2014-02-27 20","v":-26},{"t":"2014-02-27 22","v":-19},{"t":"2014-02-27 23","v":-20},{"t":"2014-02-28 01","v":-21},{"t":"2014-02-28 05","v":-16},{"t":"2014-02-28 09","v":-17},{"t":"2014-02-28 12","v":-18},{"t":"2014-02-28 16","v":-20},{"t":"2014-02-28 20","v":-20},{"t":"2014-02-28 23","v":-24},{"t":"2014-03-01 01","v":-26},{"t":"2014-03-01 05","v":-25},{"t":"2014-03-01 08","v":-27},{"t":"2014-03-01 12","v":-21},{"t":"2014-03-01 15","v":-17},{"t":"2014-03-01 18","v":-16},{"t":"2014-03-01 21","v":-12},{"t":"2014-03-02 02","v":-7},{"t":"2014-03-02 06","v":-5},{"t":"2014-03-02 07","v":-3},{"t":"2014-03-02 10","v":-13},{"t":"2014-03-02 13","v":-16},{"t":"2014-03-02 16","v":-16},{"t":"2014-03-02 18","v":-13},{"t":"2014-03-02 21","v":-13},{"t":"2014-03-02 23","v":-3},{"t":"2014-03-03 02","v":0},{"t":"2014-03-03 05","v":2},{"t":"2014-03-03 07","v":-1},{"t":"2014-03-03 11","v":-2},{"t":"2014-03-03 13","v":0},{"t":"2014-03-03 16","v":3},{"t":"2014-03-03 18","v":-6},{"t":"2014-03-03 20","v":-7},{"t":"2014-03-04 00","v":-6},{"t":"2014-03-04 04","v":-4},{"t":"2014-03-04 06","v":-2},{"t":"2014-03-04 12","v":1},{"t":"2014-03-04 15","v":-1},{"t":"2014-03-04 20","v":-1},{"t":"2014-03-04 22","v":-5},{"t":"2014-03-05 01","v":-2},{"t":"2014-03-05 03","v":-6},{"t":"2014-03-05 06","v":-5},{"t":"2014-03-05 10","v":-1},{"t":"2014-03-05 13","v":-1},{"t":"2014-03-05 16","v":-3},{"t":"2014-03-05 19","v":-11},{"t":"2014-03-05 22","v":-16},{"t":"2014-03-06 02","v":-17},{"t":"2014-03-06 06","v":-13},{"t":"2014-03-06 11","v":-11},{"t":"2014-03-06 15","v":-10},{"t":"2014-03-06 20","v":-8},{"t":"2014-03-07 01","v":-9},{"t":"2014-03-07 06","v":-11},{"t":"2014-03-07 11","v":-12},{"t":"2014-03-07 15","v":-15}
                      ]},
                      "mark": {"type": "line", "color": "#0000ff", "clip": true},
                      "encoding": {
                        "x": {"field": "t", "type": "temporal", "scale": {"domain": [{"year":2014,"month":2,"date":26},{"year":2014,"month":3,"date":7,"hours":15,"minutes":20}], "nice": false},
                          "axis": {"orient": "bottom", "title": null, "format": "%d%b", "tickSize": -5, "labelPadding": 10, "values": [{"year":2014,"month":2,"date":26},{"year":2014,"month":3,"date":1},{"year":2014,"month":3,"date":4},{"year":2014,"month":3,"date":7}]}},
                        "y": {"field": "v", "type": "quantitative", "scale": {"domain": [-120, 34.2], "nice": false, "zero": false},
                          "axis": {"orient": "left", "title": null, "tickSize": -5, "labelPadding": 8, "values": [-120,-100,-80,-60,-40,-20,0,20]}}
                      }
                    },
                    {
                      "data": {"format": {"parse": {"t": "date:'%Y-%m-%d %H'"}}, "values": [
                        {"t":"2014-02-26 00","v":-1},{"t":"2014-02-26 03","v":-3},{"t":"2014-02-26 06","v":4},{"t":"2014-02-26 08","v":3},{"t":"2014-02-26 10","v":-7},{"t":"2014-02-26 13","v":-5},{"t":"2014-02-26 16","v":-3},{"t":"2014-02-26 18","v":-1},{"t":"2014-02-26 21","v":-6},{"t":"2014-02-26 23","v":-16},{"t":"2014-02-27 00","v":14},{"t":"2014-02-27 01","v":-9},{"t":"2014-02-27 03","v":-33},{"t":"2014-02-27 04","v":-73},{"t":"2014-02-27 05","v":-92},{"t":"2014-02-27 07","v":-100},{"t":"2014-02-27 08","v":-88},{"t":"2014-02-27 10","v":-94},{"t":"2014-02-27 11","v":-78},{"t":"2014-02-27 13","v":-68},{"t":"2014-02-27 15","v":-62},{"t":"2014-02-27 18","v":-52},{"t":"2014-02-27 21","v":-49},{"t":"2014-02-27 23","v":-42},{"t":"2014-02-28 02","v":-35},{"t":"2014-02-28 05","v":-38},{"t":"2014-02-28 07","v":-31},{"t":"2014-02-28 10","v":-25},{"t":"2014-02-28 12","v":-30},{"t":"2014-02-28 13","v":-40},{"t":"2014-02-28 16","v":-50},{"t":"2014-02-28 18","v":-42},{"t":"2014-02-28 21","v":-30},{"t":"2014-02-28 23","v":-25},{"t":"2014-03-01 03","v":-27},{"t":"2014-03-01 06","v":-20},{"t":"2014-03-01 09","v":-25},{"t":"2014-03-01 11","v":-23},{"t":"2014-03-01 15","v":-19},{"t":"2014-03-01 20","v":-17},{"t":"2014-03-01 23","v":-13},{"t":"2014-03-02 03","v":-13},{"t":"2014-03-02 06","v":-1},{"t":"2014-03-02 07","v":0},{"t":"2014-03-02 09","v":-13},{"t":"2014-03-02 12","v":-25},{"t":"2014-03-02 14","v":-21},{"t":"2014-03-02 17","v":-20},{"t":"2014-03-02 19","v":-20},{"t":"2014-03-02 21","v":-13},{"t":"2014-03-03 00","v":-1},{"t":"2014-03-03 03","v":-3},{"t":"2014-03-03 05","v":-1},{"t":"2014-03-03 07","v":-8},{"t":"2014-03-03 10","v":-4},{"t":"2014-03-03 13","v":-2},{"t":"2014-03-03 17","v":-10},{"t":"2014-03-03 20","v":-12},{"t":"2014-03-03 23","v":-7},{"t":"2014-03-04 04","v":-7},{"t":"2014-03-04 08","v":-1},{"t":"2014-03-04 12","v":-1},{"t":"2014-03-04 15","v":-3},{"t":"2014-03-04 18","v":-7},{"t":"2014-03-04 21","v":-2},{"t":"2014-03-04 23","v":-4},{"t":"2014-03-05 01","v":-9},{"t":"2014-03-05 03","v":-16},{"t":"2014-03-05 05","v":-6},{"t":"2014-03-05 09","v":-4},{"t":"2014-03-05 13","v":0},{"t":"2014-03-05 14","v":2},{"t":"2014-03-05 17","v":-4},{"t":"2014-03-05 20","v":-6},{"t":"2014-03-05 23","v":-12},{"t":"2014-03-06 00","v":-16},{"t":"2014-03-06 04","v":-11},{"t":"2014-03-06 05","v":-3},{"t":"2014-03-06 09","v":-2},{"t":"2014-03-06 13","v":-2},{"t":"2014-03-06 17","v":-1},{"t":"2014-03-06 20","v":2},{"t":"2014-03-06 23","v":-2},{"t":"2014-03-07 03","v":-11},{"t":"2014-03-07 06","v":-5},{"t":"2014-03-07 08","v":-1},{"t":"2014-03-07 11","v":2},{"t":"2014-03-07 13","v":-1},{"t":"2014-03-07 15","v":-4}
                      ]},
                      "mark": {"type": "line", "color": "#ff0000", "strokeDash": [5, 3], "clip": true},
                      "encoding": {
                        "x": {"field": "t", "type": "temporal", "axis": {"orient": "top", "title": null, "labels": false, "tickSize": -5, "values": [{"year":2014,"month":2,"date":26},{"year":2014,"month":3,"date":1},{"year":2014,"month":3,"date":4},{"year":2014,"month":3,"date":7}]}},
                        "y": {"field": "v", "type": "quantitative", "axis": {"orient": "right", "title": null, "labels": false, "tickSize": -5, "values": [-120,-100,-80,-60,-40,-20,0,20]}}
                      }
                    },
                    {
                      "data": {"values": [{"label": "Feb 27, 2014"}]},
                      "mark": {"type": "text"},
                      "encoding": {
                        "x": {"datum": 1393797600000, "type": "temporal", "axis": {"orient": "bottom", "title": null, "labels": false, "tickSize": -3, "values": [1393372800000,1393416000000,1393459200000,1393502400000,1393545600000,1393588800000,1393632000000,1393675200000,1393718400000,1393761600000,1393804800000,1393848000000,1393891200000,1393934400000,1393977600000,1394020800000,1394064000000,1394107200000,1394150400000,1394193600000]}},
                        "y": {"datum": 23, "type": "quantitative", "axis": {"orient": "left", "title": null, "labels": false, "tickSize": -3, "values": [-120,-115,-110,-105,-100,-95,-90,-85,-80,-75,-70,-65,-60,-55,-50,-45,-40,-35,-30,-25,-20,-15,-10,-5,0,5,10,15,20,25,30]}},
                        "text": {"field": "label"}
                      }
                    },
                    {
                      "data": {"values": [{"label": "(2)"}]},
                      "mark": {"type": "text", "fontSize": 28},
                      "encoding": {
                        "x": {"datum": 1394161200000, "type": "temporal", "axis": {"orient": "top", "title": null, "labels": false, "tickSize": -3, "values": [1393372800000,1393416000000,1393459200000,1393502400000,1393545600000,1393588800000,1393632000000,1393675200000,1393718400000,1393761600000,1393804800000,1393848000000,1393891200000,1393934400000,1393977600000,1394020800000,1394064000000,1394107200000,1394150400000,1394193600000]}},
                        "y": {"datum": 23.6, "type": "quantitative", "axis": {"orient": "right", "title": null, "labels": false, "tickSize": -3, "values": [-120,-115,-110,-105,-100,-95,-90,-85,-80,-75,-70,-65,-60,-55,-50,-45,-40,-35,-30,-25,-20,-15,-10,-5,0,5,10,15,20,25,30]}},
                        "text": {"field": "label"}
                      }
                    }
                  ]
                },
                {
                  "width": 420, "height": 298,
                  "resolve": {"axis": {"x": "independent", "y": "independent"}},
                  "layer": [
                    {
                      "data": {"format": {"parse": {"t": "date:'%Y-%m-%d %H'"}}, "values": [
                        {"t":"2015-01-06 00","v":-25},{"t":"2015-01-06 02","v":-37},{"t":"2015-01-06 04","v":-36},{"t":"2015-01-06 06","v":-26},{"t":"2015-01-06 09","v":-22},{"t":"2015-01-06 11","v":-25},{"t":"2015-01-06 13","v":-7},{"t":"2015-01-06 16","v":-4},{"t":"2015-01-06 19","v":11},{"t":"2015-01-06 21","v":5},{"t":"2015-01-06 23","v":12},{"t":"2015-01-07 01","v":33},{"t":"2015-01-07 02","v":-59},{"t":"2015-01-07 04","v":-119},{"t":"2015-01-07 06","v":-104},{"t":"2015-01-07 08","v":-73},{"t":"2015-01-07 11","v":-44},{"t":"2015-01-07 13","v":-28},{"t":"2015-01-07 14","v":-15},{"t":"2015-01-07 16","v":-26},{"t":"2015-01-07 19","v":-22},{"t":"2015-01-07 20","v":-13},{"t":"2015-01-07 23","v":-23},{"t":"2015-01-08 01","v":-18},{"t":"2015-01-08 03","v":-15},{"t":"2015-01-08 08","v":-14},{"t":"2015-01-08 14","v":-10},{"t":"2015-01-08 19","v":-12},{"t":"2015-01-08 23","v":-8},{"t":"2015-01-09 03","v":-12},{"t":"2015-01-09 08","v":-13},{"t":"2015-01-09 12","v":-17},{"t":"2015-01-09 17","v":-14},{"t":"2015-01-09 22","v":-17},{"t":"2015-01-10 04","v":-15},{"t":"2015-01-10 09","v":-22},{"t":"2015-01-10 12","v":-27},{"t":"2015-01-10 16","v":-10},{"t":"2015-01-10 19","v":-15},{"t":"2015-01-10 23","v":-13},{"t":"2015-01-11 01","v":-30},{"t":"2015-01-11 05","v":-25},{"t":"2015-01-11 11","v":-19},{"t":"2015-01-11 17","v":-13},{"t":"2015-01-11 22","v":-7},{"t":"2015-01-12 02","v":-10},{"t":"2015-01-12 06","v":-16},{"t":"2015-01-12 10","v":-17},{"t":"2015-01-12 15","v":-17},{"t":"2015-01-12 19","v":-13},{"t":"2015-01-13 02","v":-7},{"t":"2015-01-13 06","v":-14},{"t":"2015-01-13 11","v":-12},{"t":"2015-01-13 16","v":-14},{"t":"2015-01-13 22","v":-12},{"t":"2015-01-14 04","v":-9},{"t":"2015-01-14 10","v":-15},{"t":"2015-01-14 14","v":-8},{"t":"2015-01-14 19","v":-2},{"t":"2015-01-14 23","v":1},{"t":"2015-01-15 01","v":-6},{"t":"2015-01-15 04","v":-27},{"t":"2015-01-15 07","v":-29},{"t":"2015-01-15 11","v":-22},{"t":"2015-01-15 14","v":-13},{"t":"2015-01-15 19","v":0},{"t":"2015-01-15 21","v":-13},{"t":"2015-01-16 01","v":-15},{"t":"2015-01-16 06","v":-17},{"t":"2015-01-16 10","v":-17},{"t":"2015-01-16 16","v":-15},{"t":"2015-01-16 21","v":-18},{"t":"2015-01-16 23","v":-20},{"t":"2015-01-17 04","v":-12},{"t":"2015-01-17 09","v":-8},{"t":"2015-01-17 13","v":-4},{"t":"2015-01-17 17","v":-2},{"t":"2015-01-17 20","v":3},{"t":"2015-01-18 01","v":3},{"t":"2015-01-18 05","v":-2},{"t":"2015-01-18 08","v":-5},{"t":"2015-01-18 11","v":-3}
                      ]},
                      "mark": {"type": "line", "color": "#0000ff", "clip": true},
                      "encoding": {
                        "x": {"field": "t", "type": "temporal", "scale": {"domain": [{"year":2015,"month":1,"date":6},{"year":2015,"month":1,"date":18,"hours":11,"minutes":17}], "nice": false},
                          "axis": {"orient": "bottom", "title": null, "format": "%d%b", "tickSize": -5, "labelPadding": 10, "values": [{"year":2015,"month":1,"date":6},{"year":2015,"month":1,"date":9},{"year":2015,"month":1,"date":12},{"year":2015,"month":1,"date":15},{"year":2015,"month":1,"date":18}]}},
                        "y": {"field": "v", "type": "quantitative", "scale": {"domain": [-154.4, 45.1], "nice": false, "zero": false},
                          "axis": {"orient": "left", "title": null, "tickSize": -5, "labelPadding": 8, "values": [-150,-100,-50,0]}}
                      }
                    },
                    {
                      "data": {"format": {"parse": {"t": "date:'%Y-%m-%d %H'"}}, "values": [
                        {"t":"2015-01-06 00","v":-29},{"t":"2015-01-06 02","v":-46},{"t":"2015-01-06 03","v":-36},{"t":"2015-01-06 05","v":-33},{"t":"2015-01-06 08","v":-24},{"t":"2015-01-06 10","v":-28},{"t":"2015-01-06 12","v":-35},{"t":"2015-01-06 13","v":-3},{"t":"2015-01-06 15","v":-15},{"t":"2015-01-06 18","v":-13},{"t":"2015-01-06 19","v":-8},{"t":"2015-01-06 22","v":-4},{"t":"2015-01-06 23","v":-8},{"t":"2015-01-07 01","v":25},{"t":"2015-01-07 02","v":-64},{"t":"2015-01-07 04","v":-133},{"t":"2015-01-07 06","v":-108},{"t":"2015-01-07 08","v":-99},{"t":"2015-01-07 10","v":-73},{"t":"2015-01-07 12","v":-48},{"t":"2015-01-07 14","v":-39},{"t":"2015-01-07 16","v":-50},{"t":"2015-01-07 18","v":-65},{"t":"2015-01-07 19","v":-44},{"t":"2015-01-07 21","v":-28},{"t":"2015-01-07 23","v":-55},{"t":"2015-01-08 02","v":-52},{"t":"2015-01-08 05","v":-48},{"t":"2015-01-08 08","v":-44},{"t":"2015-01-08 12","v":-37},{"t":"2015-01-08 15","v":-34},{"t":"2015-01-08 19","v":-39},{"t":"2015-01-08 22","v":-27},{"t":"2015-01-09 02","v":-36},{"t":"2015-01-09 05","v":-32},{"t":"2015-01-09 09","v":-34},{"t":"2015-01-09 14","v":-22},{"t":"2015-01-09 17","v":-29},{"t":"2015-01-09 21","v":-27},{"t":"2015-01-10 01","v":-34},{"t":"2015-01-10 06","v":-25},{"t":"2015-01-10 11","v":-25},{"t":"2015-01-10 15","v":-15},{"t":"2015-01-10 18","v":-23},{"t":"2015-01-10 22","v":-27},{"t":"2015-01-11 02","v":-37},{"t":"2015-01-11 06","v":-32},{"t":"2015-01-11 09","v":-35},{"t":"2015-01-11 13","v":-24},{"t":"2015-01-11 18","v":-20},{"t":"2015-01-11 22","v":-22},{"t":"2015-01-12 02","v":-22},{"t":"2015-01-12 04","v":-36},{"t":"2015-01-12 08","v":-33},{"t":"2015-01-12 11","v":-32},{"t":"2015-01-12 14","v":-20},{"t":"2015-01-12 19","v":-19},{"t":"2015-01-12 23","v":-16},{"t":"2015-01-13 03","v":-14},{"t":"2015-01-13 06","v":-25},{"t":"2015-01-13 10","v":-28},{"t":"2015-01-13 13","v":-19},{"t":"2015-01-13 18","v":-23},{"t":"2015-01-13 23","v":-19},{"t":"2015-01-14 04","v":-25},{"t":"2015-01-14 06","v":-30},{"t":"2015-01-14 08","v":-19},{"t":"2015-01-14 12","v":-10},{"t":"2015-01-14 17","v":-9},{"t":"2015-01-14 22","v":-12},{"t":"2015-01-15 02","v":-14},{"t":"2015-01-15 06","v":-20},{"t":"2015-01-15 09","v":-15},{"t":"2015-01-15 13","v":-7},{"t":"2015-01-15 16","v":-4},{"t":"2015-01-15 20","v":-3},{"t":"2015-01-15 22","v":-25},{"t":"2015-01-16 02","v":-18},{"t":"2015-01-16 07","v":-15},{"t":"2015-01-16 11","v":-17},{"t":"2015-01-16 16","v":-9},{"t":"2015-01-16 20","v":-17},{"t":"2015-01-16 23","v":-26},{"t":"2015-01-17 02","v":-19},{"t":"2015-01-17 06","v":-6},{"t":"2015-01-17 11","v":-9},{"t":"2015-01-17 16","v":-8},{"t":"2015-01-17 19","v":-12},{"t":"2015-01-17 23","v":-2},{"t":"2015-01-18 02","v":0},{"t":"2015-01-18 06","v":-7},{"t":"2015-01-18 11","v":-5}
                      ]},
                      "mark": {"type": "line", "color": "#ff0000", "strokeDash": [5, 3], "clip": true},
                      "encoding": {
                        "x": {"field": "t", "type": "temporal", "axis": {"orient": "top", "title": null, "labels": false, "tickSize": -5, "values": [{"year":2015,"month":1,"date":6},{"year":2015,"month":1,"date":9},{"year":2015,"month":1,"date":12},{"year":2015,"month":1,"date":15},{"year":2015,"month":1,"date":18}]}},
                        "y": {"field": "v", "type": "quantitative", "axis": {"orient": "right", "title": null, "labels": false, "tickSize": -5, "values": [-150,-100,-50,0]}}
                      }
                    },
                    {
                      "data": {"values": [{"label": "Jan 07, 2015"}]},
                      "mark": {"type": "text"},
                      "encoding": {
                        "x": {"datum": 1421046000000, "type": "temporal", "axis": {"orient": "bottom", "title": null, "labels": false, "tickSize": -3, "values": [1420502400000,1420545600000,1420588800000,1420632000000,1420675200000,1420718400000,1420761600000,1420804800000,1420848000000,1420891200000,1420934400000,1420977600000,1421020800000,1421064000000,1421107200000,1421150400000,1421193600000,1421236800000,1421280000000,1421323200000,1421366400000,1421409600000,1421452800000,1421496000000,1421539200000]}},
                        "y": {"datum": 30, "type": "quantitative", "axis": {"orient": "left", "title": null, "labels": false, "tickSize": -3, "values": [-150,-140,-130,-120,-110,-100,-90,-80,-70,-60,-50,-40,-30,-20,-10,0,10,20,30,40]}},
                        "text": {"field": "label"}
                      }
                    },
                    {
                      "data": {"values": [{"label": "(4)"}]},
                      "mark": {"type": "text", "fontSize": 28},
                      "encoding": {
                        "x": {"datum": 1421503200000, "type": "temporal", "axis": {"orient": "top", "title": null, "labels": false, "tickSize": -3, "values": [1420502400000,1420545600000,1420588800000,1420632000000,1420675200000,1420718400000,1420761600000,1420804800000,1420848000000,1420891200000,1420934400000,1420977600000,1421020800000,1421064000000,1421107200000,1421150400000,1421193600000,1421236800000,1421280000000,1421323200000,1421366400000,1421409600000,1421452800000,1421496000000,1421539200000]}},
                        "y": {"datum": 30, "type": "quantitative", "axis": {"orient": "right", "title": null, "labels": false, "tickSize": -3, "values": [-150,-140,-130,-120,-110,-100,-90,-80,-70,-60,-50,-40,-30,-20,-10,0,10,20,30,40]}},
                        "text": {"field": "label"}
                      }
                    }
                  ]
                },
                {
                  "width": 420, "height": 298,
                  "resolve": {"axis": {"x": "independent", "y": "independent"}},
                  "layer": [
                    {
                      "data": {"format": {"parse": {"t": "date:'%Y-%m-%d %H'"}}, "values": [
                        {"t":"2015-06-06 00","v":15},{"t":"2015-06-06 01","v":10},{"t":"2015-06-06 02","v":0},{"t":"2015-06-06 04","v":-2},{"t":"2015-06-06 05","v":6},{"t":"2015-06-06 08","v":6},{"t":"2015-06-06 11","v":9},{"t":"2015-06-06 13","v":11},{"t":"2015-06-06 16","v":14},{"t":"2015-06-06 18","v":15},{"t":"2015-06-06 19","v":10},{"t":"2015-06-06 21","v":4},{"t":"2015-06-06 22","v":0},{"t":"2015-06-06 23","v":6},{"t":"2015-06-07 01","v":7},{"t":"2015-06-07 02","v":14},{"t":"2015-06-07 03","v":21},{"t":"2015-06-07 05","v":24},{"t":"2015-06-07 07","v":24},{"t":"2015-06-07 08","v":28},{"t":"2015-06-07 10","v":18},{"t":"2015-06-07 11","v":9},{"t":"2015-06-07 12","v":6},{"t":"2015-06-07 13","v":10},{"t":"2015-06-07 14","v":12},{"t":"2015-06-07 15","v":4},{"t":"2015-06-07 16","v":-4},{"t":"2015-06-07 17","v":-10},{"t":"2015-06-07 18","v":-4},{"t":"2015-06-07 19","v":-14},{"t":"2015-06-07 20","v":-33},{"t":"2015-06-07 22","v":-60},{"t":"2015-06-07 23","v":-52},{"t":"2015-06-08 00","v":-50},{"t":"2015-06-08 02","v":-41},{"t":"2015-06-08 03","v":-48},{"t":"2015-06-08 05","v":-47},{"t":"2015-06-08 07","v":-52},{"t":"2015-06-08 09","v":-57},{"t":"2015-06-08 11","v":-50},{"t":"2015-06-08 13","v":-48},{"t":"2015-06-08 15","v":-45},{"t":"2015-06-08 18","v":-46},{"t":"2015-06-08 20","v":-43},{"t":"2015-06-08 22","v":-41},{"t":"2015-06-09 00","v":-33},{"t":"2015-06-09 02","v":-26},{"t":"2015-06-09 04","v":-21},{"t":"2015-06-09 07","v":-19},{"t":"2015-06-09 09","v":-22},{"t":"2015-06-09 12","v":-23},{"t":"2015-06-09 15","v":-26},{"t":"2015-06-09 17","v":-23},{"t":"2015-06-09 19","v":-17},{"t":"2015-06-09 22","v":-17},{"t":"2015-06-10 00","v":-19},{"t":"2015-06-10 03","v":-17},{"t":"2015-06-10 05","v":-16},{"t":"2015-06-10 08","v":-17},{"t":"2015-06-10 11","v":-19},{"t":"2015-06-10 14","v":-15},{"t":"2015-06-10 17","v":-13},{"t":"2015-06-10 18","v":-18},{"t":"2015-06-10 21","v":-16},{"t":"2015-06-10 23","v":-12},{"t":"2015-06-11 01","v":-9},{"t":"2015-06-11 03","v":-13},{"t":"2015-06-11 06","v":-17},{"t":"2015-06-11 08","v":-20},{"t":"2015-06-11 11","v":-16},{"t":"2015-06-11 13","v":-15},{"t":"2015-06-11 16","v":-15},{"t":"2015-06-11 19","v":-16},{"t":"2015-06-11 21","v":-14},{"t":"2015-06-11 23","v":-15},{"t":"2015-06-12 03","v":-15},{"t":"2015-06-12 05","v":-16},{"t":"2015-06-12 07","v":-9},{"t":"2015-06-12 10","v":-8},{"t":"2015-06-12 12","v":-5},{"t":"2015-06-12 13","v":0},{"t":"2015-06-12 15","v":-3},{"t":"2015-06-12 17","v":-2},{"t":"2015-06-12 19","v":-3},{"t":"2015-06-12 21","v":-8},{"t":"2015-06-12 23","v":-9},{"t":"2015-06-13 00","v":-14},{"t":"2015-06-13 03","v":-14},{"t":"2015-06-13 06","v":-14},{"t":"2015-06-13 08","v":-19}
                      ]},
                      "mark": {"type": "line", "color": "#0000ff", "clip": true},
                      "encoding": {
                        "x": {"field": "t", "type": "temporal", "scale": {"domain": [{"year":2015,"month":6,"date":6},{"year":2015,"month":6,"date":13,"hours":8,"minutes":10}], "nice": false},
                          "axis": {"orient": "bottom", "title": null, "format": "%d%b", "tickSize": -5, "labelPadding": 10, "values": [{"year":2015,"month":6,"date":6},{"year":2015,"month":6,"date":8},{"year":2015,"month":6,"date":10},{"year":2015,"month":6,"date":12}]}},
                        "y": {"field": "v", "type": "quantitative", "scale": {"domain": [-123.9, 49.2], "nice": false, "zero": false},
                          "axis": {"orient": "left", "title": null, "tickSize": -5, "labelPadding": 8, "values": [-120,-100,-80,-60,-40,-20,0,20,40]}}
                      }
                    },
                    {
                      "data": {"format": {"parse": {"t": "date:'%Y-%m-%d %H'"}}, "values": [
                        {"t":"2015-06-06 00","v":18},{"t":"2015-06-06 01","v":19},{"t":"2015-06-06 02","v":9},{"t":"2015-06-06 04","v":11},{"t":"2015-06-06 06","v":8},{"t":"2015-06-06 08","v":6},{"t":"2015-06-06 10","v":7},{"t":"2015-06-06 12","v":13},{"t":"2015-06-06 14","v":11},{"t":"2015-06-06 16","v":12},{"t":"2015-06-06 18","v":9},{"t":"2015-06-06 20","v":2},{"t":"2015-06-06 22","v":-14},{"t":"2015-06-06 23","v":-4},{"t":"2015-06-07 01","v":6},{"t":"2015-06-07 02","v":16},{"t":"2015-06-07 03","v":25},{"t":"2015-06-07 06","v":25},{"t":"2015-06-07 07","v":21},{"t":"2015-06-07 09","v":26},{"t":"2015-06-07 10","v":15},{"t":"2015-06-07 12","v":4},{"t":"2015-06-07 13","v":8},{"t":"2015-06-07 14","v":20},{"t":"2015-06-07 15","v":21},{"t":"2015-06-07 16","v":-2},{"t":"2015-06-07 17","v":4},{"t":"2015-06-07 18","v":15},{"t":"2015-06-07 19","v":6},{"t":"2015-06-07 20","v":-2},{"t":"2015-06-07 21","v":-17},{"t":"2015-06-07 22","v":-75},{"t":"2015-06-07 23","v":-102},{"t":"2015-06-08 00","v":-66},{"t":"2015-06-08 01","v":-56},{"t":"2015-06-08 02","v":-41},{"t":"2015-06-08 03","v":-52},{"t":"2015-06-08 04","v":-73},{"t":"2015-06-08 05","v":-52},{"t":"2015-06-08 06","v":-48},{"t":"2015-06-08 08","v":-50},{"t":"2015-06-08 10","v":-44},{"t":"2015-06-08 12","v":-42},{"t":"2015-06-08 14","v":-41},{"t":"2015-06-08 16","v":-31},{"t":"2015-06-08 18","v":-35},{"t":"2015-06-08 21","v":-29},{"t":"2015-06-08 23","v":-31},{"t":"2015-06-09 01","v":-27},{"t":"2015-06-09 03","v":-25},{"t":"2015-06-09 05","v":-27},{"t":"2015-06-09 07","v":-31},{"t":"2015-06-09 09","v":-42},{"t":"2015-06-09 11","v":-41},{"t":"2015-06-09 12","v":-27},{"t":"2015-06-09 14","v":-29},{"t":"2015-06-09 15","v":-35},{"t":"2015-06-09 17","v":-21},{"t":"2015-06-09 19","v":-19},{"t":"2015-06-09 21","v":-25},{"t":"2015-06-09 22","v":-33},{"t":"2015-06-10 00","v":-28},{"t":"2015-06-10 03","v":-29},{"t":"2015-06-10 05","v":-21},{"t":"2015-06-10 07","v":-25},{"t":"2015-06-10 09","v":-24},{"t":"2015-06-10 11","v":-33},{"t":"2015-06-10 13","v":-23},{"t":"2015-06-10 15","v":-25},{"t":"2015-06-10 17","v":-31},{"t":"2015-06-10 18","v":-37},{"t":"2015-06-10 20","v":-21},{"t":"2015-06-10 22","v":-25},{"t":"2015-06-11 00","v":-21},{"t":"2015-06-11 02","v":-24},{"t":"2015-06-11 04","v":-21},{"t":"2015-06-11 06","v":-29},{"t":"2015-06-11 08","v":-19},{"t":"2015-06-11 11","v":-20},{"t":"2015-06-11 13","v":-24},{"t":"2015-06-11 15","v":-20},{"t":"2015-06-11 18","v":-21},{"t":"2015-06-11 20","v":-17},{"t":"2015-06-11 22","v":-20},{"t":"2015-06-12 00","v":-16},{"t":"2015-06-12 02","v":-15},{"t":"2015-06-12 03","v":2},{"t":"2015-06-12 04","v":6},{"t":"2015-06-12 06","v":12},{"t":"2015-06-12 07","v":18},{"t":"2015-06-12 08","v":27},{"t":"2015-06-12 09","v":26},{"t":"2015-06-12 11","v":18},{"t":"2015-06-12 12","v":4},{"t":"2015-06-12 13","v":0},{"t":"2015-06-12 15","v":-12},{"t":"2015-06-12 16","v":-17},{"t":"2015-06-12 18","v":-7},{"t":"2015-06-12 19","v":-12},{"t":"2015-06-12 21","v":-17},{"t":"2015-06-12 23","v":-6},{"t":"2015-06-13 00","v":-14},{"t":"2015-06-13 03","v":-14},{"t":"2015-06-13 06","v":-17},{"t":"2015-06-13 07","v":-14},{"t":"2015-06-13 08","v":-18}
                      ]},
                      "mark": {"type": "line", "color": "#ff0000", "strokeDash": [5, 3], "clip": true},
                      "encoding": {
                        "x": {"field": "t", "type": "temporal", "axis": {"orient": "top", "title": null, "labels": false, "tickSize": -5, "values": [{"year":2015,"month":6,"date":6},{"year":2015,"month":6,"date":8},{"year":2015,"month":6,"date":10},{"year":2015,"month":6,"date":12}]}},
                        "y": {"field": "v", "type": "quantitative", "axis": {"orient": "right", "title": null, "labels": false, "tickSize": -5, "values": [-120,-100,-80,-60,-40,-20,0,20,40]}}
                      }
                    },
                    {
                      "data": {"values": [{"label": "Jun 07, 2015"}]},
                      "mark": {"type": "text"},
                      "encoding": {
                        "x": {"datum": 1433836800000, "type": "temporal", "axis": {"orient": "bottom", "title": null, "labels": false, "tickSize": -3, "values": [1433548800000,1433592000000,1433635200000,1433678400000,1433721600000,1433764800000,1433808000000,1433851200000,1433894400000,1433937600000,1433980800000,1434024000000,1434067200000,1434110400000,1434153600000]}},
                        "y": {"datum": 38, "type": "quantitative", "axis": {"orient": "left", "title": null, "labels": false, "tickSize": -3, "values": [-120,-115,-110,-105,-100,-95,-90,-85,-80,-75,-70,-65,-60,-55,-50,-45,-40,-35,-30,-25,-20,-15,-10,-5,0,5,10,15,20,25,30,35,40,45]}},
                        "text": {"field": "label"}
                      }
                    },
                    {
                      "data": {"values": [{"label": "(6)"}]},
                      "mark": {"type": "text", "fontSize": 28},
                      "encoding": {
                        "x": {"datum": 1434132000000, "type": "temporal", "axis": {"orient": "top", "title": null, "labels": false, "tickSize": -3, "values": [1433548800000,1433592000000,1433635200000,1433678400000,1433721600000,1433764800000,1433808000000,1433851200000,1433894400000,1433937600000,1433980800000,1434024000000,1434067200000,1434110400000,1434153600000]}},
                        "y": {"datum": 37, "type": "quantitative", "axis": {"orient": "right", "title": null, "labels": false, "tickSize": -3, "values": [-120,-115,-110,-105,-100,-95,-90,-85,-80,-75,-70,-65,-60,-55,-50,-45,-40,-35,-30,-25,-20,-15,-10,-5,0,5,10,15,20,25,30,35,40,45]}},
                        "text": {"field": "label"}
                      }
                    }
                  ]
                },
                {
                  "width": 420, "height": 298,
                  "resolve": {"axis": {"x": "independent", "y": "independent"}},
                  "layer": [
                    {
                      "data": {"format": {"parse": {"t": "date:'%Y-%m-%d %H'"}}, "values": [
                        {"t":"2015-07-03 00","v":-1},{"t":"2015-07-03 02","v":1},{"t":"2015-07-03 04","v":2},{"t":"2015-07-03 05","v":5},{"t":"2015-07-03 07","v":7},{"t":"2015-07-03 09","v":10},{"t":"2015-07-03 11","v":10},{"t":"2015-07-03 13","v":12},{"t":"2015-07-03 14","v":9},{"t":"2015-07-03 15","v":11},{"t":"2015-07-03 18","v":17},{"t":"2015-07-03 19","v":20},{"t":"2015-07-03 21","v":14},{"t":"2015-07-03 22","v":7},{"t":"2015-07-03 23","v":4},{"t":"2015-07-04 00","v":10},{"t":"2015-07-04 01","v":23},{"t":"2015-07-04 02","v":6},{"t":"2015-07-04 03","v":-1},{"t":"2015-07-04 04","v":-18},{"t":"2015-07-04 06","v":-42},{"t":"2015-07-04 07","v":-60},{"t":"2015-07-04 08","v":-68},{"t":"2015-07-04 09","v":-66},{"t":"2015-07-04 10","v":-63},{"t":"2015-07-04 11","v":-73},{"t":"2015-07-04 12","v":-64},{"t":"2015-07-04 13","v":-62},{"t":"2015-07-04 14","v":-71},{"t":"2015-07-04 15","v":-60},{"t":"2015-07-04 17","v":-57},{"t":"2015-07-04 19","v":-51},{"t":"2015-07-04 21","v":-46},{"t":"2015-07-04 23","v":-40},{"t":"2015-07-05 01","v":-36},{"t":"2015-07-05 02","v":-31},{"t":"2015-07-05 04","v":-31},{"t":"2015-07-05 06","v":-27},{"t":"2015-07-05 07","v":-25},{"t":"2015-07-05 09","v":-24},{"t":"2015-07-05 11","v":-24},{"t":"2015-07-05 12","v":-34},{"t":"2015-07-05 14","v":-31},{"t":"2015-07-05 16","v":-29},{"t":"2015-07-05 17","v":-32},{"t":"2015-07-05 19","v":-31},{"t":"2015-07-05 21","v":-28},{"t":"2015-07-06 00","v":-25},{"t":"2015-07-06 02","v":-24},{"t":"2015-07-06 05","v":-24},{"t":"2015-07-06 06","v":-18},{"t":"2015-07-06 09","v":-13},{"t":"2015-07-06 10","v":-15},{"t":"2015-07-06 12","v":-13},{"t":"2015-07-06 15","v":-11},{"t":"2015-07-06 18","v":-11},{"t":"2015-07-06 20","v":-12},{"t":"2015-07-06 22","v":-12},{"t":"2015-07-07 01","v":-12},{"t":"2015-07-07 04","v":-13},{"t":"2015-07-07 06","v":-15},{"t":"2015-07-07 08","v":-19},{"t":"2015-07-07 11","v":-19},{"t":"2015-07-07 13","v":-18},{"t":"2015-07-07 16","v":-17},{"t":"2015-07-07 19","v":-16},{"t":"2015-07-07 22","v":-17},{"t":"2015-07-08 00","v":-15},{"t":"2015-07-08 02","v":-18},{"t":"2015-07-08 05","v":-21},{"t":"2015-07-08 06","v":-20},{"t":"2015-07-08 09","v":-16},{"t":"2015-07-08 11","v":-12},{"t":"2015-07-08 13","v":-15},{"t":"2015-07-08 14","v":-17},{"t":"2015-07-08 16","v":-13},{"t":"2015-07-08 18","v":-13},{"t":"2015-07-08 21","v":-11},{"t":"2015-07-09 00","v":-13},{"t":"2015-07-09 02","v":-13},{"t":"2015-07-09 05","v":-12},{"t":"2015-07-09 06","v":-13},{"t":"2015-07-09 09","v":-13},{"t":"2015-07-09 12","v":-12},{"t":"2015-07-09 15","v":-11},{"t":"2015-07-09 17","v":-7},{"t":"2015-07-09 20","v":-4},{"t":"2015-07-09 23","v":-1},{"t":"2015-07-10 01","v":3},{"t":"2015-07-10 03","v":5},{"t":"2015-07-10 05","v":7}
                      ]},
                      "mark": {"type": "line", "color": "#0000ff", "clip": true},
                      "encoding": {
                        "x": {"field": "t", "type": "temporal", "scale": {"domain": [{"year":2015,"month":7,"date":3},{"year":2015,"month":7,"date":10,"hours":5,"minutes":17}], "nice": false},
                          "axis": {"orient": "bottom", "title": null, "format": "%d%b", "tickSize": -5, "labelPadding": 10, "values": [{"year":2015,"month":7,"date":3},{"year":2015,"month":7,"date":6},{"year":2015,"month":7,"date":9}]}},
                        "y": {"field": "v", "type": "quantitative", "scale": {"domain": [-106.3, 58.8], "nice": false, "zero": false},
                          "axis": {"orient": "left", "title": null, "tickSize": -5, "labelPadding": 8, "values": [-100,-50,0,50]}}
                      }
                    },
                    {
                      "data": {"format": {"parse": {"t": "date:'%Y-%m-%d %H'"}}, "values": [
                        {"t":"2015-07-03 00","v":-3},{"t":"2015-07-03 02","v":-1},{"t":"2015-07-03 04","v":2},{"t":"2015-07-03 06","v":-1},{"t":"2015-07-03 08","v":1},{"t":"2015-07-03 09","v":2},{"t":"2015-07-03 11","v":1},{"t":"2015-07-03 12","v":3},{"t":"2015-07-03 14","v":-2},{"t":"2015-07-03 15","v":6},{"t":"2015-07-03 18","v":7},{"t":"2015-07-03 19","v":9},{"t":"2015-07-03 22","v":3},{"t":"2015-07-03 23","v":13},{"t":"2015-07-04 00","v":28},{"t":"2015-07-04 01","v":38},{"t":"2015-07-04 02","v":13},{"t":"2015-07-04 03","v":8},{"t":"2015-07-04 04","v":-5},{"t":"2015-07-04 05","v":-13},{"t":"2015-07-04 06","v":14},{"t":"2015-07-04 07","v":-58},{"t":"2015-07-04 08","v":-44},{"t":"2015-07-04 09","v":-53},{"t":"2015-07-04 10","v":-40},{"t":"2015-07-04 11","v":-60},{"t":"2015-07-04 12","v":-75},{"t":"2015-07-04 13","v":-53},{"t":"2015-07-04 14","v":-86},{"t":"2015-07-04 15","v":-68},{"t":"2015-07-04 16","v":-62},{"t":"2015-07-04 18","v":-57},{"t":"2015-07-04 19","v":-58},{"t":"2015-07-04 20","v":-46},{"t":"2015-07-04 22","v":-42},{"t":"2015-07-04 23","v":-53},{"t":"2015-07-05 01","v":-42},{"t":"2015-07-05 02","v":-44},{"t":"2015-07-05 04","v":-38},{"t":"2015-07-05 06","v":-33},{"t":"2015-07-05 07","v":-36},{"t":"2015-07-05 09","v":-31},{"t":"2015-07-05 10","v":-35},{"t":"2015-07-05 11","v":-51},{"t":"2015-07-05 12","v":-60},{"t":"2015-07-05 13","v":-38},{"t":"2015-07-05 14","v":-44},{"t":"2015-07-05 16","v":-38},{"t":"2015-07-05 17","v":-42},{"t":"2015-07-05 19","v":-46},{"t":"2015-07-05 21","v":-38},{"t":"2015-07-05 23","v":-35},{"t":"2015-07-06 01","v":-33},{"t":"2015-07-06 03","v":-35},{"t":"2015-07-06 05","v":-39},{"t":"2015-07-06 06","v":-32},{"t":"2015-07-06 09","v":-28},{"t":"2015-07-06 11","v":-31},{"t":"2015-07-06 13","v":-32},{"t":"2015-07-06 15","v":-29},{"t":"2015-07-06 16","v":-24},{"t":"2015-07-06 18","v":-27},{"t":"2015-07-06 20","v":-23},{"t":"2015-07-06 23","v":-22},{"t":"2015-07-07 01","v":-24},{"t":"2015-07-07 03","v":-25},{"t":"2015-07-07 05","v":-19},{"t":"2015-07-07 07","v":-21},{"t":"2015-07-07 09","v":-18},{"t":"2015-07-07 11","v":-25},{"t":"2015-07-07 13","v":-22},{"t":"2015-07-07 16","v":-18},{"t":"2015-07-07 18","v":-13},{"t":"2015-07-07 20","v":-16},{"t":"2015-07-07 22","v":-15},{"t":"2015-07-08 00","v":-18},{"t":"2015-07-08 02","v":-20},{"t":"2015-07-08 04","v":-13},{"t":"2015-07-08 06","v":-9},{"t":"2015-07-08 08","v":-13},{"t":"2015-07-08 09","v":-13},{"t":"2015-07-08 11","v":-12},{"t":"2015-07-08 13","v":-20},{"t":"2015-07-08 15","v":-27},{"t":"2015-07-08 16","v":-13},{"t":"2015-07-08 18","v":-10},{"t":"2015-07-08 20","v":-11},{"t":"2015-07-08 22","v":-10},{"t":"2015-07-09 00","v":-14},{"t":"2015-07-09 02","v":-8},{"t":"2015-07-09 05","v":-6},{"t":"2015-07-09 06","v":-9},{"t":"2015-07-09 08","v":-10},{"t":"2015-07-09 10","v":-14},{"t":"2015-07-09 12","v":-15},{"t":"2015-07-09 14","v":-17},{"t":"2015-07-09 16","v":-13},{"t":"2015-07-09 18","v":-6},{"t":"2015-07-09 20","v":-4},{"t":"2015-07-09 22","v":-2},{"t":"2015-07-09 23","v":-5},{"t":"2015-07-10 01","v":1},{"t":"2015-07-10 03","v":6},{"t":"2015-07-10 04","v":10},{"t":"2015-07-10 05","v":20}
                      ]},
                      "mark": {"type": "line", "color": "#ff0000", "strokeDash": [5, 3], "clip": true},
                      "encoding": {
                        "x": {"field": "t", "type": "temporal", "axis": {"orient": "top", "title": null, "labels": false, "tickSize": -5, "values": [{"year":2015,"month":7,"date":3},{"year":2015,"month":7,"date":6},{"year":2015,"month":7,"date":9}]}},
                        "y": {"field": "v", "type": "quantitative", "axis": {"orient": "right", "title": null, "labels": false, "tickSize": -5, "values": [-100,-50,0,50]}}
                      }
                    },
                    {
                      "data": {"values": [{"label": "Jul 4, 2015"}]},
                      "mark": {"type": "text"},
                      "encoding": {
                        "x": {"datum": 1436180400000, "type": "temporal", "axis": {"orient": "bottom", "title": null, "labels": false, "tickSize": -3, "values": [1435881600000,1435924800000,1435968000000,1436011200000,1436054400000,1436097600000,1436140800000,1436184000000,1436227200000,1436270400000,1436313600000,1436356800000,1436400000000,1436443200000,1436486400000]}},
                        "y": {"datum": 45.2, "type": "quantitative", "axis": {"orient": "left", "title": null, "labels": false, "tickSize": -3, "values": [-100,-90,-80,-70,-60,-50,-40,-30,-20,-10,0,10,20,30,40,50]}},
                        "text": {"field": "label"}
                      }
                    },
                    {
                      "data": {"values": [{"label": "(8)"}]},
                      "mark": {"type": "text", "fontSize": 28},
                      "encoding": {
                        "x": {"datum": 1436461200000, "type": "temporal", "axis": {"orient": "top", "title": null, "labels": false, "tickSize": -3, "values": [1435881600000,1435924800000,1435968000000,1436011200000,1436054400000,1436097600000,1436140800000,1436184000000,1436227200000,1436270400000,1436313600000,1436356800000,1436400000000,1436443200000,1436486400000]}},
                        "y": {"datum": 45.2, "type": "quantitative", "axis": {"orient": "right", "title": null, "labels": false, "tickSize": -3, "values": [-100,-90,-80,-70,-60,-50,-40,-30,-20,-10,0,10,20,30,40,50]}},
                        "text": {"field": "label"}
                      }
                    }
                  ]
                }
              ]
            }
          ]
        }
      ]
    },
    {
      "width": 960, "height": 30,
      "view": {"stroke": null},
      "data": {"values": [{"label": "Time in days"}]},
      "mark": {"type": "text", "fontSize": 36, "dx": 43},
      "encoding": {"text": {"field": "label"}}
    }
  ]
}
